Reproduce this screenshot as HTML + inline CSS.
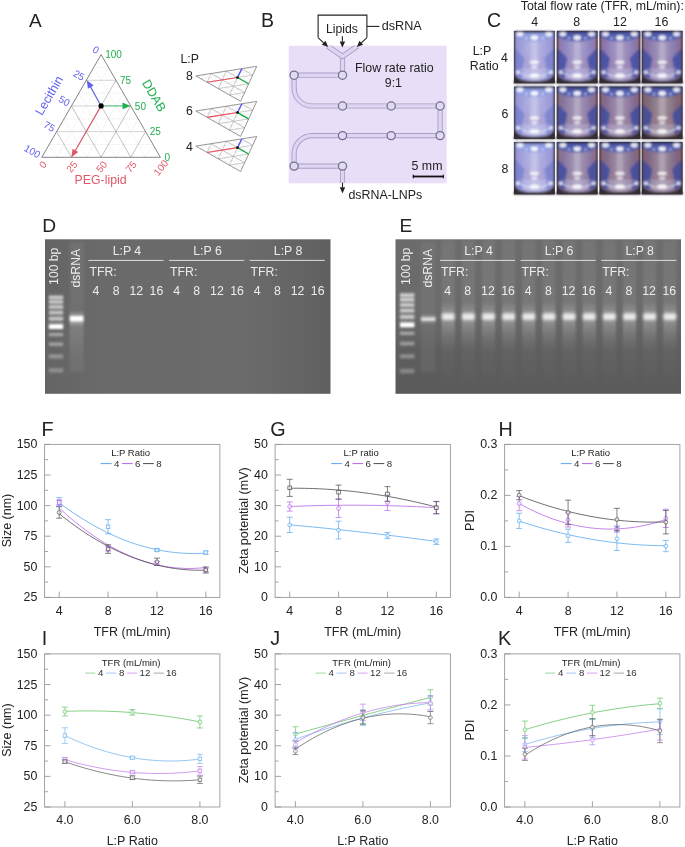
<!DOCTYPE html>
<html><head><meta charset="utf-8"><style>
html,body{margin:0;padding:0;background:#fff;}
body{width:685px;height:847px;overflow:hidden;}
svg{display:block;font-family:"Liberation Sans", sans-serif;will-change:transform;}
</style></head><body>
<svg width="685" height="847" viewBox="0 0 685 847">
<rect width="685" height="847" fill="#fff"/>
<g><line x1="49.21" y1="144.46" x2="152.99" y2="144.46" stroke="#d2d2d2" stroke-width="0.5" stroke-dasharray="1.2 1.2"/><line x1="56.62" y1="157.30" x2="108.51" y2="67.44" stroke="#d2d2d2" stroke-width="0.5" stroke-dasharray="1.2 1.2"/><line x1="56.62" y1="157.30" x2="49.21" y2="144.46" stroke="#d2d2d2" stroke-width="0.5" stroke-dasharray="1.2 1.2"/><line x1="56.62" y1="131.62" x2="145.57" y2="131.62" stroke="#c6c6c6" stroke-width="0.78"/><line x1="71.45" y1="157.30" x2="115.92" y2="80.28" stroke="#999999" stroke-width="0.6"/><line x1="71.45" y1="157.30" x2="56.62" y2="131.62" stroke="#999999" stroke-width="0.6"/><line x1="64.04" y1="118.79" x2="138.16" y2="118.79" stroke="#d2d2d2" stroke-width="0.5" stroke-dasharray="1.2 1.2"/><line x1="86.28" y1="157.30" x2="123.34" y2="93.11" stroke="#d2d2d2" stroke-width="0.5" stroke-dasharray="1.2 1.2"/><line x1="86.28" y1="157.30" x2="64.04" y2="118.79" stroke="#d2d2d2" stroke-width="0.5" stroke-dasharray="1.2 1.2"/><line x1="71.45" y1="105.95" x2="130.75" y2="105.95" stroke="#c6c6c6" stroke-width="0.78"/><line x1="101.10" y1="157.30" x2="130.75" y2="105.95" stroke="#999999" stroke-width="0.6"/><line x1="101.10" y1="157.30" x2="71.45" y2="105.95" stroke="#999999" stroke-width="0.6"/><line x1="78.86" y1="93.11" x2="123.34" y2="93.11" stroke="#d2d2d2" stroke-width="0.5" stroke-dasharray="1.2 1.2"/><line x1="115.92" y1="157.30" x2="138.16" y2="118.79" stroke="#d2d2d2" stroke-width="0.5" stroke-dasharray="1.2 1.2"/><line x1="115.92" y1="157.30" x2="78.86" y2="93.11" stroke="#d2d2d2" stroke-width="0.5" stroke-dasharray="1.2 1.2"/><line x1="86.27" y1="80.28" x2="115.92" y2="80.28" stroke="#c6c6c6" stroke-width="0.78"/><line x1="130.75" y1="157.30" x2="145.57" y2="131.62" stroke="#999999" stroke-width="0.6"/><line x1="130.75" y1="157.30" x2="86.27" y2="80.28" stroke="#999999" stroke-width="0.6"/><line x1="93.69" y1="67.44" x2="108.51" y2="67.44" stroke="#d2d2d2" stroke-width="0.5" stroke-dasharray="1.2 1.2"/><line x1="145.57" y1="157.30" x2="152.99" y2="144.46" stroke="#d2d2d2" stroke-width="0.5" stroke-dasharray="1.2 1.2"/><line x1="145.57" y1="157.30" x2="93.69" y2="67.44" stroke="#d2d2d2" stroke-width="0.5" stroke-dasharray="1.2 1.2"/><polygon points="101.1,54.6 41.8,157.3 160.4,157.3" fill="none" stroke="#666666" stroke-width="0.8"/><line x1="101.10" y1="105.90" x2="90.29" y2="86.33" stroke="#6060f0" stroke-width="1.1"/><polygon points="86.90,80.20 93.66,85.61 87.88,88.80" fill="#6060f0"/><line x1="101.10" y1="105.90" x2="123.50" y2="105.90" stroke="#60c888" stroke-width="1.1"/><polygon points="130.50,105.90 122.50,109.20 122.50,102.60" fill="#20b050"/><line x1="101.10" y1="105.90" x2="74.90" y2="151.24" stroke="#e05868" stroke-width="1.1"/><polygon points="71.40,157.30 72.55,148.72 78.26,152.02" fill="#e05868"/><circle cx="101.1" cy="105.9" r="2.6" fill="#000"/><text x="105.20" y="58.20" font-size="10" fill="#20b050" text-anchor="start" >100</text><text x="120.02" y="83.88" font-size="10" fill="#20b050" text-anchor="start" >75</text><text x="134.85" y="109.55" font-size="10" fill="#20b050" text-anchor="start" >50</text><text x="149.67" y="135.22" font-size="10" fill="#20b050" text-anchor="start" >25</text><text x="164.50" y="160.90" font-size="10" fill="#20b050" text-anchor="start" >0</text><text transform="translate(95.90,50.00) rotate(30)" font-size="10" fill="#6060f0" text-anchor="middle" y="3.4">0</text><text transform="translate(78.97,75.28) rotate(30)" font-size="10" fill="#6060f0" text-anchor="middle" y="3.4">25</text><text transform="translate(64.15,100.95) rotate(30)" font-size="10" fill="#6060f0" text-anchor="middle" y="3.4">50</text><text transform="translate(49.33,126.62) rotate(30)" font-size="10" fill="#6060f0" text-anchor="middle" y="3.4">75</text><text transform="translate(32.30,151.50) rotate(30)" font-size="10" fill="#6060f0" text-anchor="middle" y="3.4">100</text><text transform="translate(43.00,164.80) rotate(-50)" font-size="10" fill="#e05868" text-anchor="middle" y="3.4">0</text><text transform="translate(71.95,166.80) rotate(-50)" font-size="10" fill="#e05868" text-anchor="middle" y="3.4">25</text><text transform="translate(101.60,166.80) rotate(-50)" font-size="10" fill="#e05868" text-anchor="middle" y="3.4">50</text><text transform="translate(131.25,166.80) rotate(-50)" font-size="10" fill="#e05868" text-anchor="middle" y="3.4">75</text><text transform="translate(160.90,167.80) rotate(-50)" font-size="10" fill="#e05868" text-anchor="middle" y="3.4">100</text><text x="100.60" y="183.60" font-size="12.3" fill="#e05868" text-anchor="middle" >PEG-lipid</text><text transform="translate(49,95.5) rotate(-60)" font-size="12.5" fill="#6060f0" text-anchor="middle" y="4.4">Lecithin</text><text transform="translate(154.3,95.5) rotate(60)" font-size="12.5" fill="#20b050" text-anchor="middle" y="4.4">DDAB</text><text x="29.00" y="27.20" font-size="19" fill="#222" text-anchor="start" >A</text><text x="180.50" y="63.30" font-size="12.3" fill="#222" text-anchor="start" >L:P</text><text x="186.00" y="80.30" font-size="12.3" fill="#222" text-anchor="start" >8</text><g transform="matrix(0.3769,0.2142,-0.3748,0.2169,239.1,32.83)"><line x1="49.21" y1="144.46" x2="152.99" y2="144.46" stroke="#d4d4d4" stroke-width="1.0" stroke-dasharray="1.2 1.2"/><line x1="56.62" y1="157.30" x2="108.51" y2="67.44" stroke="#d4d4d4" stroke-width="1.0" stroke-dasharray="1.2 1.2"/><line x1="56.62" y1="157.30" x2="49.21" y2="144.46" stroke="#d4d4d4" stroke-width="1.0" stroke-dasharray="1.2 1.2"/><line x1="56.62" y1="131.62" x2="145.57" y2="131.62" stroke="#b0b0b0" stroke-width="1.56"/><line x1="71.45" y1="157.30" x2="115.92" y2="80.28" stroke="#a4a4a4" stroke-width="1.2"/><line x1="71.45" y1="157.30" x2="56.62" y2="131.62" stroke="#a4a4a4" stroke-width="1.2"/><line x1="64.04" y1="118.79" x2="138.16" y2="118.79" stroke="#d4d4d4" stroke-width="1.0" stroke-dasharray="1.2 1.2"/><line x1="86.28" y1="157.30" x2="123.34" y2="93.11" stroke="#d4d4d4" stroke-width="1.0" stroke-dasharray="1.2 1.2"/><line x1="86.28" y1="157.30" x2="64.04" y2="118.79" stroke="#d4d4d4" stroke-width="1.0" stroke-dasharray="1.2 1.2"/><line x1="71.45" y1="105.95" x2="130.75" y2="105.95" stroke="#b0b0b0" stroke-width="1.56"/><line x1="101.10" y1="157.30" x2="130.75" y2="105.95" stroke="#a4a4a4" stroke-width="1.2"/><line x1="101.10" y1="157.30" x2="71.45" y2="105.95" stroke="#a4a4a4" stroke-width="1.2"/><line x1="78.86" y1="93.11" x2="123.34" y2="93.11" stroke="#d4d4d4" stroke-width="1.0" stroke-dasharray="1.2 1.2"/><line x1="115.92" y1="157.30" x2="138.16" y2="118.79" stroke="#d4d4d4" stroke-width="1.0" stroke-dasharray="1.2 1.2"/><line x1="115.92" y1="157.30" x2="78.86" y2="93.11" stroke="#d4d4d4" stroke-width="1.0" stroke-dasharray="1.2 1.2"/><line x1="86.27" y1="80.28" x2="115.92" y2="80.28" stroke="#b0b0b0" stroke-width="1.56"/><line x1="130.75" y1="157.30" x2="145.57" y2="131.62" stroke="#a4a4a4" stroke-width="1.2"/><line x1="130.75" y1="157.30" x2="86.27" y2="80.28" stroke="#a4a4a4" stroke-width="1.2"/><line x1="93.69" y1="67.44" x2="108.51" y2="67.44" stroke="#d4d4d4" stroke-width="1.0" stroke-dasharray="1.2 1.2"/><line x1="145.57" y1="157.30" x2="152.99" y2="144.46" stroke="#d4d4d4" stroke-width="1.0" stroke-dasharray="1.2 1.2"/><line x1="145.57" y1="157.30" x2="93.69" y2="67.44" stroke="#d4d4d4" stroke-width="1.0" stroke-dasharray="1.2 1.2"/><polygon points="101.1,54.6 41.8,157.3 160.4,157.3" fill="none" stroke="#787878" stroke-width="1.6"/></g><line x1="237.51" y1="77.46" x2="207.05" y2="82.24" stroke="#f05060" stroke-width="1.1"/><line x1="237.51" y1="77.46" x2="241.79" y2="68.84" stroke="#5050ff" stroke-width="1.3"/><line x1="237.51" y1="77.46" x2="248.59" y2="83.75" stroke="#10b040" stroke-width="1.3"/><circle cx="237.51" cy="77.46" r="1.3" fill="#000"/><text x="186.00" y="115.40" font-size="12.3" fill="#222" text-anchor="start" >6</text><g transform="matrix(0.3769,0.2142,-0.3748,0.2169,239.1,67.93)"><line x1="49.21" y1="144.46" x2="152.99" y2="144.46" stroke="#d4d4d4" stroke-width="1.0" stroke-dasharray="1.2 1.2"/><line x1="56.62" y1="157.30" x2="108.51" y2="67.44" stroke="#d4d4d4" stroke-width="1.0" stroke-dasharray="1.2 1.2"/><line x1="56.62" y1="157.30" x2="49.21" y2="144.46" stroke="#d4d4d4" stroke-width="1.0" stroke-dasharray="1.2 1.2"/><line x1="56.62" y1="131.62" x2="145.57" y2="131.62" stroke="#b0b0b0" stroke-width="1.56"/><line x1="71.45" y1="157.30" x2="115.92" y2="80.28" stroke="#a4a4a4" stroke-width="1.2"/><line x1="71.45" y1="157.30" x2="56.62" y2="131.62" stroke="#a4a4a4" stroke-width="1.2"/><line x1="64.04" y1="118.79" x2="138.16" y2="118.79" stroke="#d4d4d4" stroke-width="1.0" stroke-dasharray="1.2 1.2"/><line x1="86.28" y1="157.30" x2="123.34" y2="93.11" stroke="#d4d4d4" stroke-width="1.0" stroke-dasharray="1.2 1.2"/><line x1="86.28" y1="157.30" x2="64.04" y2="118.79" stroke="#d4d4d4" stroke-width="1.0" stroke-dasharray="1.2 1.2"/><line x1="71.45" y1="105.95" x2="130.75" y2="105.95" stroke="#b0b0b0" stroke-width="1.56"/><line x1="101.10" y1="157.30" x2="130.75" y2="105.95" stroke="#a4a4a4" stroke-width="1.2"/><line x1="101.10" y1="157.30" x2="71.45" y2="105.95" stroke="#a4a4a4" stroke-width="1.2"/><line x1="78.86" y1="93.11" x2="123.34" y2="93.11" stroke="#d4d4d4" stroke-width="1.0" stroke-dasharray="1.2 1.2"/><line x1="115.92" y1="157.30" x2="138.16" y2="118.79" stroke="#d4d4d4" stroke-width="1.0" stroke-dasharray="1.2 1.2"/><line x1="115.92" y1="157.30" x2="78.86" y2="93.11" stroke="#d4d4d4" stroke-width="1.0" stroke-dasharray="1.2 1.2"/><line x1="86.27" y1="80.28" x2="115.92" y2="80.28" stroke="#b0b0b0" stroke-width="1.56"/><line x1="130.75" y1="157.30" x2="145.57" y2="131.62" stroke="#a4a4a4" stroke-width="1.2"/><line x1="130.75" y1="157.30" x2="86.27" y2="80.28" stroke="#a4a4a4" stroke-width="1.2"/><line x1="93.69" y1="67.44" x2="108.51" y2="67.44" stroke="#d4d4d4" stroke-width="1.0" stroke-dasharray="1.2 1.2"/><line x1="145.57" y1="157.30" x2="152.99" y2="144.46" stroke="#d4d4d4" stroke-width="1.0" stroke-dasharray="1.2 1.2"/><line x1="145.57" y1="157.30" x2="93.69" y2="67.44" stroke="#d4d4d4" stroke-width="1.0" stroke-dasharray="1.2 1.2"/><polygon points="101.1,54.6 41.8,157.3 160.4,157.3" fill="none" stroke="#787878" stroke-width="1.6"/></g><line x1="237.51" y1="112.56" x2="207.05" y2="117.34" stroke="#f05060" stroke-width="1.1"/><line x1="237.51" y1="112.56" x2="241.79" y2="103.94" stroke="#5050ff" stroke-width="1.3"/><line x1="237.51" y1="112.56" x2="248.59" y2="118.85" stroke="#10b040" stroke-width="1.3"/><circle cx="237.51" cy="112.56" r="1.3" fill="#000"/><text x="186.00" y="150.50" font-size="12.3" fill="#222" text-anchor="start" >4</text><g transform="matrix(0.3769,0.2142,-0.3748,0.2169,239.1,103.03)"><line x1="49.21" y1="144.46" x2="152.99" y2="144.46" stroke="#d4d4d4" stroke-width="1.0" stroke-dasharray="1.2 1.2"/><line x1="56.62" y1="157.30" x2="108.51" y2="67.44" stroke="#d4d4d4" stroke-width="1.0" stroke-dasharray="1.2 1.2"/><line x1="56.62" y1="157.30" x2="49.21" y2="144.46" stroke="#d4d4d4" stroke-width="1.0" stroke-dasharray="1.2 1.2"/><line x1="56.62" y1="131.62" x2="145.57" y2="131.62" stroke="#b0b0b0" stroke-width="1.56"/><line x1="71.45" y1="157.30" x2="115.92" y2="80.28" stroke="#a4a4a4" stroke-width="1.2"/><line x1="71.45" y1="157.30" x2="56.62" y2="131.62" stroke="#a4a4a4" stroke-width="1.2"/><line x1="64.04" y1="118.79" x2="138.16" y2="118.79" stroke="#d4d4d4" stroke-width="1.0" stroke-dasharray="1.2 1.2"/><line x1="86.28" y1="157.30" x2="123.34" y2="93.11" stroke="#d4d4d4" stroke-width="1.0" stroke-dasharray="1.2 1.2"/><line x1="86.28" y1="157.30" x2="64.04" y2="118.79" stroke="#d4d4d4" stroke-width="1.0" stroke-dasharray="1.2 1.2"/><line x1="71.45" y1="105.95" x2="130.75" y2="105.95" stroke="#b0b0b0" stroke-width="1.56"/><line x1="101.10" y1="157.30" x2="130.75" y2="105.95" stroke="#a4a4a4" stroke-width="1.2"/><line x1="101.10" y1="157.30" x2="71.45" y2="105.95" stroke="#a4a4a4" stroke-width="1.2"/><line x1="78.86" y1="93.11" x2="123.34" y2="93.11" stroke="#d4d4d4" stroke-width="1.0" stroke-dasharray="1.2 1.2"/><line x1="115.92" y1="157.30" x2="138.16" y2="118.79" stroke="#d4d4d4" stroke-width="1.0" stroke-dasharray="1.2 1.2"/><line x1="115.92" y1="157.30" x2="78.86" y2="93.11" stroke="#d4d4d4" stroke-width="1.0" stroke-dasharray="1.2 1.2"/><line x1="86.27" y1="80.28" x2="115.92" y2="80.28" stroke="#b0b0b0" stroke-width="1.56"/><line x1="130.75" y1="157.30" x2="145.57" y2="131.62" stroke="#a4a4a4" stroke-width="1.2"/><line x1="130.75" y1="157.30" x2="86.27" y2="80.28" stroke="#a4a4a4" stroke-width="1.2"/><line x1="93.69" y1="67.44" x2="108.51" y2="67.44" stroke="#d4d4d4" stroke-width="1.0" stroke-dasharray="1.2 1.2"/><line x1="145.57" y1="157.30" x2="152.99" y2="144.46" stroke="#d4d4d4" stroke-width="1.0" stroke-dasharray="1.2 1.2"/><line x1="145.57" y1="157.30" x2="93.69" y2="67.44" stroke="#d4d4d4" stroke-width="1.0" stroke-dasharray="1.2 1.2"/><polygon points="101.1,54.6 41.8,157.3 160.4,157.3" fill="none" stroke="#787878" stroke-width="1.6"/></g><line x1="237.51" y1="147.66" x2="207.05" y2="152.44" stroke="#f05060" stroke-width="1.1"/><line x1="237.51" y1="147.66" x2="241.79" y2="139.04" stroke="#5050ff" stroke-width="1.3"/><line x1="237.51" y1="147.66" x2="248.59" y2="153.95" stroke="#10b040" stroke-width="1.3"/><circle cx="237.51" cy="147.66" r="1.3" fill="#000"/></g><text x="261.00" y="26.80" font-size="19.5" fill="#222" text-anchor="start" >B</text><defs><filter id="chblur" x="-5%" y="-5%" width="110%" height="110%"><feGaussianBlur stdDeviation="0.45"/></filter></defs><rect x="288.7" y="45.5" width="158" height="137.8" fill="#e9def8"/><g filter="url(#chblur)"><path d="M294.1,75.2 L342.5,75.2 M294.1,75.2 L294.1,88 A18,18 0 0 0 312.1,106 L440.1,106 L440.1,135.6 L312.1,135.6 A18,18 0 0 0 294.1,153.6 L294.1,166.1 L342.5,166.1 M342.5,56.5 L342.5,75.2 M342.5,166.1 L342.5,182.8" fill="none" stroke="#a8a0c6" stroke-width="5.2"/><path d="M294.1,75.2 L342.5,75.2 M294.1,75.2 L294.1,88 A18,18 0 0 0 312.1,106 L440.1,106 L440.1,135.6 L312.1,135.6 A18,18 0 0 0 294.1,153.6 L294.1,166.1 L342.5,166.1 M342.5,56.5 L342.5,75.2 M342.5,166.1 L342.5,182.8" fill="none" stroke="#ddd5f2" stroke-width="3.4"/><path d="M327.5,46 L342.5,56.5 L357.5,46" fill="none" stroke="#a8a0c6" stroke-width="5.2" stroke-linejoin="round"/><path d="M327.5,46 L342.5,56.5 L357.5,46" fill="none" stroke="#ddd5f2" stroke-width="3.4" stroke-linejoin="round"/></g><rect x="288.7" y="44" width="158" height="1.5" fill="#fff"/><circle cx="294.1" cy="75.2" r="4.1" fill="#e2daf4" stroke="#727088" stroke-width="1.25"/><circle cx="342.5" cy="75.2" r="4.1" fill="#e2daf4" stroke="#727088" stroke-width="1.25"/><circle cx="342.5" cy="106" r="4.1" fill="#e2daf4" stroke="#727088" stroke-width="1.25"/><circle cx="391.2" cy="106" r="4.1" fill="#e2daf4" stroke="#727088" stroke-width="1.25"/><circle cx="440.1" cy="106" r="4.1" fill="#e2daf4" stroke="#727088" stroke-width="1.25"/><circle cx="342.5" cy="135.6" r="4.1" fill="#e2daf4" stroke="#727088" stroke-width="1.25"/><circle cx="391.2" cy="135.6" r="4.1" fill="#e2daf4" stroke="#727088" stroke-width="1.25"/><circle cx="440.1" cy="135.6" r="4.1" fill="#e2daf4" stroke="#727088" stroke-width="1.25"/><circle cx="294.1" cy="166.1" r="4.1" fill="#e2daf4" stroke="#727088" stroke-width="1.25"/><circle cx="342.5" cy="166.1" r="4.1" fill="#e2daf4" stroke="#727088" stroke-width="1.25"/><path d="M318.1,37.6 L318.1,15.1 L366.9,15.1 L366.9,37.6" fill="none" stroke="#222" stroke-width="1.1"/><line x1="318.1" y1="37.6" x2="323.66" y2="42.78" stroke="#222" stroke-width="1.1"/><polygon points="328.2,47.0 321.82,44.75 325.50,40.80" fill="#222"/><line x1="366.9" y1="37.6" x2="361.34" y2="42.78" stroke="#222" stroke-width="1.1"/><polygon points="356.8,47.0 359.50,40.80 363.18,44.75" fill="#222"/><line x1="342.4" y1="36.2" x2="342.40" y2="41.40" stroke="#222" stroke-width="1.1"/><polygon points="342.4,47.6 339.70,41.40 345.10,41.40" fill="#222"/><line x1="342.5" y1="182.8" x2="342.50" y2="187.30" stroke="#222" stroke-width="1.1"/><polygon points="342.5,193.5 339.80,187.30 345.20,187.30" fill="#222"/><line x1="366.9" y1="26.4" x2="379.5" y2="26.4" stroke="#222" stroke-width="1.1"/><text x="342.00" y="33.00" font-size="12.2" fill="#222" text-anchor="middle" >Lipids</text><text x="381.80" y="30.40" font-size="12.6" fill="#222" text-anchor="start" >dsRNA</text><text x="394.30" y="71.90" font-size="12.4" fill="#222" text-anchor="middle" >Flow rate ratio</text><text x="393.40" y="87.00" font-size="12.4" fill="#222" text-anchor="middle" >9:1</text><text x="427.00" y="169.80" font-size="12.4" fill="#222" text-anchor="middle" >5 mm</text><rect x="412.8" y="175.6" width="31" height="1.8" fill="#111"/><rect x="412.8" y="174.6" width="1.0" height="3.8" fill="#111"/><rect x="442.8" y="174.6" width="1.0" height="3.8" fill="#111"/><text x="385.30" y="199.00" font-size="12.4" fill="#222" text-anchor="middle" >dsRNA-LNPs</text><text x="487.00" y="27.00" font-size="19.5" fill="#222" text-anchor="start" >C</text><text x="602.30" y="10.00" font-size="12.4" fill="#222" text-anchor="middle" >Total flow rate (TFR, mL/min):</text><text x="534.60" y="25.60" font-size="12.4" fill="#222" text-anchor="middle" >4</text><text x="576.60" y="25.60" font-size="12.4" fill="#222" text-anchor="middle" >8</text><text x="620.00" y="25.60" font-size="12.4" fill="#222" text-anchor="middle" >12</text><text x="661.50" y="25.60" font-size="12.4" fill="#222" text-anchor="middle" >16</text><text x="482.00" y="55.30" font-size="12.4" fill="#222" text-anchor="middle" >L:P</text><text x="484.30" y="69.80" font-size="12.4" fill="#222" text-anchor="middle" >Ratio</text><text x="504.50" y="62.20" font-size="12.4" fill="#222" text-anchor="middle" >4</text><text x="505.00" y="117.50" font-size="12.4" fill="#222" text-anchor="middle" >6</text><text x="505.00" y="173.00" font-size="12.4" fill="#222" text-anchor="middle" >8</text><defs><filter id="vblur" x="-5%" y="-5%" width="110%" height="110%"><feGaussianBlur stdDeviation="0.85"/></filter></defs><defs><linearGradient id="v00h" x1="0" x2="1" y1="0" y2="0"><stop offset="0" stop-color="#9594d0"/><stop offset="0.12" stop-color="#9e9cda"/><stop offset="0.5" stop-color="#bbbae5"/><stop offset="0.88" stop-color="#9e9cda"/><stop offset="1" stop-color="#9594d0"/></linearGradient></defs><rect x="513.9" y="30.9" width="41.0" height="52.4" fill="#2c2830"/><g filter="url(#vblur)"><path d="M514.92,30.90 L553.88,30.90 L553.88,73.87 Q553.88,81.20 534.40,81.20 Q514.92,81.20 514.92,73.87 Z" fill="url(#v00h)"/><path d="M522.10,69.68 L527.43,51.86 L531.94,69.68 Z" fill="#ad9dcb" opacity="0.45"/><path d="M546.70,69.68 L541.37,51.86 L536.86,69.68 Z" fill="#ad9dcb" opacity="0.45"/><path d="M514.92,48.19 L524.56,58.15 L522.10,69.68 L522.92,78.06 Q515.54,78.06 514.92,72.82 Z" fill="#6a78c8" opacity="0.6"/><path d="M553.88,48.19 L544.24,58.15 L546.70,69.68 L545.88,78.06 Q553.26,78.06 553.88,72.82 Z" fill="#6a78c8" opacity="0.6"/><path d="M514.92,30.90 L553.88,30.90 L553.88,37.19 Q534.40,45.57 514.92,37.19 Z" fill="#8e9ce2" opacity="0.9"/><path d="M514.92,30.90 L553.88,30.90 L553.88,31.95 Q534.40,34.04 514.92,31.95 Z" fill="#2a2634" opacity="0.7"/><rect x="531.12" y="41.38" width="6.56" height="22.01" fill="#fff" opacity="0.15"/><path d="M522.10,70.72 L546.70,70.72 L546.70,78.06 Q534.40,81.73 522.10,78.06 Z" fill="#d8d8f4" opacity="0.28"/><path d="M518.00,69.68 L550.80,69.68" stroke="#e4e4fa" stroke-width="0.9" opacity="0.5"/><path d="M516.36,70.72 Q534.40,83.30 552.44,70.72" fill="none" stroke="#eeeeff" stroke-width="1.4" opacity="0.6"/><ellipse cx="520.05" cy="34.04" rx="3.40" ry="2.40" fill="#fff" opacity="0.85"/><ellipse cx="534.40" cy="37.71" rx="3.80" ry="2.40" fill="#fff" opacity="0.9"/><ellipse cx="548.75" cy="34.04" rx="3.40" ry="2.40" fill="#fff" opacity="0.85"/><ellipse cx="526.20" cy="38.24" rx="1.60" ry="1.20" fill="#fff" opacity="0.5"/><ellipse cx="542.60" cy="38.24" rx="1.60" ry="1.20" fill="#fff" opacity="0.5"/><ellipse cx="534.40" cy="62.34" rx="4.80" ry="1.80" fill="#fff" opacity="0.8"/><ellipse cx="534.40" cy="67.06" rx="3.20" ry="1.40" fill="#fff" opacity="0.65"/><ellipse cx="534.40" cy="75.44" rx="4.80" ry="2.00" fill="#fff" opacity="0.9"/><ellipse cx="518.00" cy="72.30" rx="2.40" ry="1.60" fill="#fff" opacity="0.75"/><ellipse cx="550.80" cy="72.30" rx="2.40" ry="1.60" fill="#fff" opacity="0.75"/><rect x="513.9" y="80.94" width="41.0" height="2.36" fill="#3a3036"/></g><defs><linearGradient id="v01h" x1="0" x2="1" y1="0" y2="0"><stop offset="0" stop-color="#9a738e"/><stop offset="0.12" stop-color="#8c80bc"/><stop offset="0.5" stop-color="#aea6d0"/><stop offset="0.88" stop-color="#8c80bc"/><stop offset="1" stop-color="#9a738e"/></linearGradient></defs><rect x="556.7" y="30.9" width="41.0" height="52.4" fill="#2c2830"/><g filter="url(#vblur)"><path d="M557.73,30.90 L596.68,30.90 L596.68,73.87 Q596.68,81.20 577.20,81.20 Q557.73,81.20 557.73,73.87 Z" fill="url(#v01h)"/><path d="M564.90,69.68 L570.23,51.86 L574.74,69.68 Z" fill="#a18bb8" opacity="0.45"/><path d="M589.50,69.68 L584.17,51.86 L579.66,69.68 Z" fill="#a18bb8" opacity="0.45"/><path d="M557.73,48.19 L567.36,58.15 L564.90,69.68 L565.72,78.06 Q558.34,78.06 557.73,72.82 Z" fill="#3646a2" opacity="0.72"/><path d="M596.68,48.19 L587.04,58.15 L589.50,69.68 L588.68,78.06 Q596.06,78.06 596.68,72.82 Z" fill="#3646a2" opacity="0.72"/><path d="M557.73,30.90 L596.68,30.90 L596.68,37.19 Q577.20,45.57 557.73,37.19 Z" fill="#4858ae" opacity="0.9"/><path d="M557.73,30.90 L596.68,30.90 L596.68,31.95 Q577.20,34.04 557.73,31.95 Z" fill="#2a2634" opacity="0.7"/><rect x="573.92" y="41.38" width="6.56" height="22.01" fill="#fff" opacity="0.15"/><path d="M564.90,70.72 L589.50,70.72 L589.50,78.06 Q577.20,81.73 564.90,78.06 Z" fill="#d8d8f4" opacity="0.28"/><path d="M560.80,69.68 L593.60,69.68" stroke="#e4e4fa" stroke-width="0.9" opacity="0.5"/><path d="M559.16,70.72 Q577.20,83.30 595.24,70.72" fill="none" stroke="#eeeeff" stroke-width="1.4" opacity="0.6"/><ellipse cx="562.85" cy="34.04" rx="3.40" ry="2.40" fill="#fff" opacity="0.85"/><ellipse cx="577.20" cy="37.71" rx="3.80" ry="2.40" fill="#fff" opacity="0.9"/><ellipse cx="591.55" cy="34.04" rx="3.40" ry="2.40" fill="#fff" opacity="0.85"/><ellipse cx="569.00" cy="38.24" rx="1.60" ry="1.20" fill="#fff" opacity="0.5"/><ellipse cx="585.40" cy="38.24" rx="1.60" ry="1.20" fill="#fff" opacity="0.5"/><ellipse cx="577.20" cy="62.34" rx="4.80" ry="1.80" fill="#fff" opacity="0.8"/><ellipse cx="577.20" cy="67.06" rx="3.20" ry="1.40" fill="#fff" opacity="0.65"/><ellipse cx="577.20" cy="75.44" rx="4.80" ry="2.00" fill="#fff" opacity="0.9"/><ellipse cx="560.80" cy="72.30" rx="2.40" ry="1.60" fill="#fff" opacity="0.75"/><ellipse cx="593.60" cy="72.30" rx="2.40" ry="1.60" fill="#fff" opacity="0.75"/><rect x="556.7" y="80.94" width="41.0" height="2.36" fill="#3a3036"/></g><defs><linearGradient id="v02h" x1="0" x2="1" y1="0" y2="0"><stop offset="0" stop-color="#986e86"/><stop offset="0.12" stop-color="#8878b0"/><stop offset="0.5" stop-color="#aca0c8"/><stop offset="0.88" stop-color="#8878b0"/><stop offset="1" stop-color="#986e86"/></linearGradient></defs><rect x="599.4" y="30.9" width="41.0" height="52.4" fill="#2c2830"/><g filter="url(#vblur)"><path d="M600.42,30.90 L639.38,30.90 L639.38,73.87 Q639.38,81.20 619.90,81.20 Q600.42,81.20 600.42,73.87 Z" fill="url(#v02h)"/><path d="M607.60,69.68 L612.93,51.86 L617.44,69.68 Z" fill="#9e86b0" opacity="0.45"/><path d="M632.20,69.68 L626.87,51.86 L622.36,69.68 Z" fill="#9e86b0" opacity="0.45"/><path d="M600.42,48.19 L610.06,58.15 L607.60,69.68 L608.42,78.06 Q601.04,78.06 600.42,72.82 Z" fill="#3646a2" opacity="0.72"/><path d="M639.38,48.19 L629.74,58.15 L632.20,69.68 L631.38,78.06 Q638.76,78.06 639.38,72.82 Z" fill="#3646a2" opacity="0.72"/><path d="M600.42,30.90 L639.38,30.90 L639.38,37.19 Q619.90,45.57 600.42,37.19 Z" fill="#4858ae" opacity="0.9"/><path d="M600.42,30.90 L639.38,30.90 L639.38,31.95 Q619.90,34.04 600.42,31.95 Z" fill="#2a2634" opacity="0.7"/><rect x="616.62" y="41.38" width="6.56" height="22.01" fill="#fff" opacity="0.15"/><path d="M607.60,70.72 L632.20,70.72 L632.20,78.06 Q619.90,81.73 607.60,78.06 Z" fill="#d8d8f4" opacity="0.28"/><path d="M603.50,69.68 L636.30,69.68" stroke="#e4e4fa" stroke-width="0.9" opacity="0.5"/><path d="M601.86,70.72 Q619.90,83.30 637.94,70.72" fill="none" stroke="#eeeeff" stroke-width="1.4" opacity="0.6"/><ellipse cx="605.55" cy="34.04" rx="3.40" ry="2.40" fill="#fff" opacity="0.85"/><ellipse cx="619.90" cy="37.71" rx="3.80" ry="2.40" fill="#fff" opacity="0.9"/><ellipse cx="634.25" cy="34.04" rx="3.40" ry="2.40" fill="#fff" opacity="0.85"/><ellipse cx="611.70" cy="38.24" rx="1.60" ry="1.20" fill="#fff" opacity="0.5"/><ellipse cx="628.10" cy="38.24" rx="1.60" ry="1.20" fill="#fff" opacity="0.5"/><ellipse cx="619.90" cy="62.34" rx="4.80" ry="1.80" fill="#fff" opacity="0.8"/><ellipse cx="619.90" cy="67.06" rx="3.20" ry="1.40" fill="#fff" opacity="0.65"/><ellipse cx="619.90" cy="75.44" rx="4.80" ry="2.00" fill="#fff" opacity="0.9"/><ellipse cx="603.50" cy="72.30" rx="2.40" ry="1.60" fill="#fff" opacity="0.75"/><ellipse cx="636.30" cy="72.30" rx="2.40" ry="1.60" fill="#fff" opacity="0.75"/><rect x="599.4" y="80.94" width="41.0" height="2.36" fill="#3a3036"/></g><defs><linearGradient id="v03h" x1="0" x2="1" y1="0" y2="0"><stop offset="0" stop-color="#966c82"/><stop offset="0.12" stop-color="#8474a8"/><stop offset="0.5" stop-color="#a99ec2"/><stop offset="0.88" stop-color="#8474a8"/><stop offset="1" stop-color="#966c82"/></linearGradient></defs><rect x="641.7" y="30.9" width="41.0" height="52.4" fill="#2c2830"/><g filter="url(#vblur)"><path d="M642.73,30.90 L681.68,30.90 L681.68,73.87 Q681.68,81.20 662.20,81.20 Q642.73,81.20 642.73,73.87 Z" fill="url(#v03h)"/><path d="M649.90,69.68 L655.23,51.86 L659.74,69.68 Z" fill="#9c83ab" opacity="0.45"/><path d="M674.50,69.68 L669.17,51.86 L664.66,69.68 Z" fill="#9c83ab" opacity="0.45"/><path d="M642.73,48.19 L652.36,58.15 L649.90,69.68 L650.72,78.06 Q643.34,78.06 642.73,72.82 Z" fill="#3646a2" opacity="0.72"/><path d="M681.68,48.19 L672.04,58.15 L674.50,69.68 L673.68,78.06 Q681.06,78.06 681.68,72.82 Z" fill="#3646a2" opacity="0.72"/><path d="M642.73,30.90 L681.68,30.90 L681.68,37.19 Q662.20,45.57 642.73,37.19 Z" fill="#4858ae" opacity="0.9"/><path d="M642.73,30.90 L681.68,30.90 L681.68,31.95 Q662.20,34.04 642.73,31.95 Z" fill="#2a2634" opacity="0.7"/><rect x="658.92" y="41.38" width="6.56" height="22.01" fill="#fff" opacity="0.15"/><path d="M649.90,70.72 L674.50,70.72 L674.50,78.06 Q662.20,81.73 649.90,78.06 Z" fill="#d8d8f4" opacity="0.28"/><path d="M645.80,69.68 L678.60,69.68" stroke="#e4e4fa" stroke-width="0.9" opacity="0.5"/><path d="M644.16,70.72 Q662.20,83.30 680.24,70.72" fill="none" stroke="#eeeeff" stroke-width="1.4" opacity="0.6"/><ellipse cx="647.85" cy="34.04" rx="3.40" ry="2.40" fill="#fff" opacity="0.85"/><ellipse cx="662.20" cy="37.71" rx="3.80" ry="2.40" fill="#fff" opacity="0.9"/><ellipse cx="676.55" cy="34.04" rx="3.40" ry="2.40" fill="#fff" opacity="0.85"/><ellipse cx="654.00" cy="38.24" rx="1.60" ry="1.20" fill="#fff" opacity="0.5"/><ellipse cx="670.40" cy="38.24" rx="1.60" ry="1.20" fill="#fff" opacity="0.5"/><ellipse cx="662.20" cy="62.34" rx="4.80" ry="1.80" fill="#fff" opacity="0.8"/><ellipse cx="662.20" cy="67.06" rx="3.20" ry="1.40" fill="#fff" opacity="0.65"/><ellipse cx="662.20" cy="75.44" rx="4.80" ry="2.00" fill="#fff" opacity="0.9"/><ellipse cx="645.80" cy="72.30" rx="2.40" ry="1.60" fill="#fff" opacity="0.75"/><ellipse cx="678.60" cy="72.30" rx="2.40" ry="1.60" fill="#fff" opacity="0.75"/><rect x="641.7" y="80.94" width="41.0" height="2.36" fill="#3a3036"/></g><defs><linearGradient id="v10h" x1="0" x2="1" y1="0" y2="0"><stop offset="0" stop-color="#9594d0"/><stop offset="0.12" stop-color="#9e9cda"/><stop offset="0.5" stop-color="#bbbae5"/><stop offset="0.88" stop-color="#9e9cda"/><stop offset="1" stop-color="#9594d0"/></linearGradient></defs><rect x="513.9" y="86.6" width="41.0" height="52.4" fill="#2c2830"/><g filter="url(#vblur)"><path d="M514.92,86.60 L553.88,86.60 L553.88,129.57 Q553.88,136.90 534.40,136.90 Q514.92,136.90 514.92,129.57 Z" fill="url(#v10h)"/><path d="M522.10,125.38 L527.43,107.56 L531.94,125.38 Z" fill="#ad9dcb" opacity="0.45"/><path d="M546.70,125.38 L541.37,107.56 L536.86,125.38 Z" fill="#ad9dcb" opacity="0.45"/><path d="M514.92,103.89 L524.56,113.85 L522.10,125.38 L522.92,133.76 Q515.54,133.76 514.92,128.52 Z" fill="#6a78c8" opacity="0.6"/><path d="M553.88,103.89 L544.24,113.85 L546.70,125.38 L545.88,133.76 Q553.26,133.76 553.88,128.52 Z" fill="#6a78c8" opacity="0.6"/><path d="M514.92,86.60 L553.88,86.60 L553.88,92.89 Q534.40,101.27 514.92,92.89 Z" fill="#8e9ce2" opacity="0.9"/><path d="M514.92,86.60 L553.88,86.60 L553.88,87.65 Q534.40,89.74 514.92,87.65 Z" fill="#2a2634" opacity="0.7"/><rect x="531.12" y="97.08" width="6.56" height="22.01" fill="#fff" opacity="0.15"/><path d="M522.10,126.42 L546.70,126.42 L546.70,133.76 Q534.40,137.43 522.10,133.76 Z" fill="#d8d8f4" opacity="0.28"/><path d="M518.00,125.38 L550.80,125.38" stroke="#e4e4fa" stroke-width="0.9" opacity="0.5"/><path d="M516.36,126.42 Q534.40,139.00 552.44,126.42" fill="none" stroke="#eeeeff" stroke-width="1.4" opacity="0.6"/><ellipse cx="520.05" cy="89.74" rx="3.40" ry="2.40" fill="#fff" opacity="0.85"/><ellipse cx="534.40" cy="93.41" rx="3.80" ry="2.40" fill="#fff" opacity="0.9"/><ellipse cx="548.75" cy="89.74" rx="3.40" ry="2.40" fill="#fff" opacity="0.85"/><ellipse cx="526.20" cy="93.94" rx="1.60" ry="1.20" fill="#fff" opacity="0.5"/><ellipse cx="542.60" cy="93.94" rx="1.60" ry="1.20" fill="#fff" opacity="0.5"/><ellipse cx="534.40" cy="118.04" rx="4.80" ry="1.80" fill="#fff" opacity="0.8"/><ellipse cx="534.40" cy="122.76" rx="3.20" ry="1.40" fill="#fff" opacity="0.65"/><ellipse cx="534.40" cy="131.14" rx="4.80" ry="2.00" fill="#fff" opacity="0.9"/><ellipse cx="518.00" cy="128.00" rx="2.40" ry="1.60" fill="#fff" opacity="0.75"/><ellipse cx="550.80" cy="128.00" rx="2.40" ry="1.60" fill="#fff" opacity="0.75"/><rect x="513.9" y="136.64" width="41.0" height="2.36" fill="#3a3036"/></g><defs><linearGradient id="v11h" x1="0" x2="1" y1="0" y2="0"><stop offset="0" stop-color="#966b7c"/><stop offset="0.12" stop-color="#84729e"/><stop offset="0.5" stop-color="#a99cbb"/><stop offset="0.88" stop-color="#84729e"/><stop offset="1" stop-color="#966b7c"/></linearGradient></defs><rect x="556.7" y="86.6" width="41.0" height="52.4" fill="#2c2830"/><g filter="url(#vblur)"><path d="M557.73,86.60 L596.68,86.60 L596.68,129.57 Q596.68,136.90 577.20,136.90 Q557.73,136.90 557.73,129.57 Z" fill="url(#v11h)"/><path d="M564.90,125.38 L570.23,107.56 L574.74,125.38 Z" fill="#9c82a4" opacity="0.45"/><path d="M589.50,125.38 L584.17,107.56 L579.66,125.38 Z" fill="#9c82a4" opacity="0.45"/><path d="M557.73,103.89 L567.36,113.85 L564.90,125.38 L565.72,133.76 Q558.34,133.76 557.73,128.52 Z" fill="#3646a2" opacity="0.72"/><path d="M596.68,103.89 L587.04,113.85 L589.50,125.38 L588.68,133.76 Q596.06,133.76 596.68,128.52 Z" fill="#3646a2" opacity="0.72"/><path d="M557.73,86.60 L596.68,86.60 L596.68,92.89 Q577.20,101.27 557.73,92.89 Z" fill="#4858ae" opacity="0.9"/><path d="M557.73,86.60 L596.68,86.60 L596.68,87.65 Q577.20,89.74 557.73,87.65 Z" fill="#2a2634" opacity="0.7"/><rect x="573.92" y="97.08" width="6.56" height="22.01" fill="#fff" opacity="0.15"/><path d="M564.90,126.42 L589.50,126.42 L589.50,133.76 Q577.20,137.43 564.90,133.76 Z" fill="#d8d8f4" opacity="0.28"/><path d="M560.80,125.38 L593.60,125.38" stroke="#e4e4fa" stroke-width="0.9" opacity="0.5"/><path d="M559.16,126.42 Q577.20,139.00 595.24,126.42" fill="none" stroke="#eeeeff" stroke-width="1.4" opacity="0.6"/><ellipse cx="562.85" cy="89.74" rx="3.40" ry="2.40" fill="#fff" opacity="0.85"/><ellipse cx="577.20" cy="93.41" rx="3.80" ry="2.40" fill="#fff" opacity="0.9"/><ellipse cx="591.55" cy="89.74" rx="3.40" ry="2.40" fill="#fff" opacity="0.85"/><ellipse cx="569.00" cy="93.94" rx="1.60" ry="1.20" fill="#fff" opacity="0.5"/><ellipse cx="585.40" cy="93.94" rx="1.60" ry="1.20" fill="#fff" opacity="0.5"/><ellipse cx="577.20" cy="118.04" rx="4.80" ry="1.80" fill="#fff" opacity="0.8"/><ellipse cx="577.20" cy="122.76" rx="3.20" ry="1.40" fill="#fff" opacity="0.65"/><ellipse cx="577.20" cy="131.14" rx="4.80" ry="2.00" fill="#fff" opacity="0.9"/><ellipse cx="560.80" cy="128.00" rx="2.40" ry="1.60" fill="#fff" opacity="0.75"/><ellipse cx="593.60" cy="128.00" rx="2.40" ry="1.60" fill="#fff" opacity="0.75"/><rect x="556.7" y="136.64" width="41.0" height="2.36" fill="#3a3036"/></g><defs><linearGradient id="v12h" x1="0" x2="1" y1="0" y2="0"><stop offset="0" stop-color="#936674"/><stop offset="0.12" stop-color="#806a92"/><stop offset="0.5" stop-color="#a697b3"/><stop offset="0.88" stop-color="#806a92"/><stop offset="1" stop-color="#936674"/></linearGradient></defs><rect x="599.4" y="86.6" width="41.0" height="52.4" fill="#2c2830"/><g filter="url(#vblur)"><path d="M600.42,86.60 L639.38,86.60 L639.38,129.57 Q639.38,136.90 619.90,136.90 Q600.42,136.90 600.42,129.57 Z" fill="url(#v12h)"/><path d="M607.60,125.38 L612.93,107.56 L617.44,125.38 Z" fill="#997d9c" opacity="0.45"/><path d="M632.20,125.38 L626.87,107.56 L622.36,125.38 Z" fill="#997d9c" opacity="0.45"/><path d="M600.42,103.89 L610.06,113.85 L607.60,125.38 L608.42,133.76 Q601.04,133.76 600.42,128.52 Z" fill="#3646a2" opacity="0.72"/><path d="M639.38,103.89 L629.74,113.85 L632.20,125.38 L631.38,133.76 Q638.76,133.76 639.38,128.52 Z" fill="#3646a2" opacity="0.72"/><path d="M600.42,86.60 L639.38,86.60 L639.38,92.89 Q619.90,101.27 600.42,92.89 Z" fill="#4858ae" opacity="0.9"/><path d="M600.42,86.60 L639.38,86.60 L639.38,87.65 Q619.90,89.74 600.42,87.65 Z" fill="#2a2634" opacity="0.7"/><rect x="616.62" y="97.08" width="6.56" height="22.01" fill="#fff" opacity="0.15"/><path d="M607.60,126.42 L632.20,126.42 L632.20,133.76 Q619.90,137.43 607.60,133.76 Z" fill="#d8d8f4" opacity="0.28"/><path d="M603.50,125.38 L636.30,125.38" stroke="#e4e4fa" stroke-width="0.9" opacity="0.5"/><path d="M601.86,126.42 Q619.90,139.00 637.94,126.42" fill="none" stroke="#eeeeff" stroke-width="1.4" opacity="0.6"/><ellipse cx="605.55" cy="89.74" rx="3.40" ry="2.40" fill="#fff" opacity="0.85"/><ellipse cx="619.90" cy="93.41" rx="3.80" ry="2.40" fill="#fff" opacity="0.9"/><ellipse cx="634.25" cy="89.74" rx="3.40" ry="2.40" fill="#fff" opacity="0.85"/><ellipse cx="611.70" cy="93.94" rx="1.60" ry="1.20" fill="#fff" opacity="0.5"/><ellipse cx="628.10" cy="93.94" rx="1.60" ry="1.20" fill="#fff" opacity="0.5"/><ellipse cx="619.90" cy="118.04" rx="4.80" ry="1.80" fill="#fff" opacity="0.8"/><ellipse cx="619.90" cy="122.76" rx="3.20" ry="1.40" fill="#fff" opacity="0.65"/><ellipse cx="619.90" cy="131.14" rx="4.80" ry="2.00" fill="#fff" opacity="0.9"/><ellipse cx="603.50" cy="128.00" rx="2.40" ry="1.60" fill="#fff" opacity="0.75"/><ellipse cx="636.30" cy="128.00" rx="2.40" ry="1.60" fill="#fff" opacity="0.75"/><rect x="599.4" y="136.64" width="41.0" height="2.36" fill="#3a3036"/></g><defs><linearGradient id="v13h" x1="0" x2="1" y1="0" y2="0"><stop offset="0" stop-color="#916465"/><stop offset="0.12" stop-color="#7c6678"/><stop offset="0.5" stop-color="#a394a0"/><stop offset="0.88" stop-color="#7c6678"/><stop offset="1" stop-color="#916465"/></linearGradient></defs><rect x="641.7" y="86.6" width="41.0" height="52.4" fill="#2c2830"/><g filter="url(#vblur)"><path d="M642.73,86.60 L681.68,86.60 L681.68,129.57 Q681.68,136.90 662.20,136.90 Q642.73,136.90 642.73,129.57 Z" fill="url(#v13h)"/><path d="M649.90,125.38 L655.23,107.56 L659.74,125.38 Z" fill="#977a8c" opacity="0.45"/><path d="M674.50,125.38 L669.17,107.56 L664.66,125.38 Z" fill="#977a8c" opacity="0.45"/><path d="M642.73,103.89 L652.36,113.85 L649.90,125.38 L650.72,133.76 Q643.34,133.76 642.73,128.52 Z" fill="#3646a2" opacity="0.72"/><path d="M681.68,103.89 L672.04,113.85 L674.50,125.38 L673.68,133.76 Q681.06,133.76 681.68,128.52 Z" fill="#3646a2" opacity="0.72"/><path d="M642.73,86.60 L681.68,86.60 L681.68,92.89 Q662.20,101.27 642.73,92.89 Z" fill="#4858ae" opacity="0.9"/><path d="M642.73,86.60 L681.68,86.60 L681.68,87.65 Q662.20,89.74 642.73,87.65 Z" fill="#2a2634" opacity="0.7"/><rect x="658.92" y="97.08" width="6.56" height="22.01" fill="#fff" opacity="0.15"/><path d="M649.90,126.42 L674.50,126.42 L674.50,133.76 Q662.20,137.43 649.90,133.76 Z" fill="#d8d8f4" opacity="0.28"/><path d="M645.80,125.38 L678.60,125.38" stroke="#e4e4fa" stroke-width="0.9" opacity="0.5"/><path d="M644.16,126.42 Q662.20,139.00 680.24,126.42" fill="none" stroke="#eeeeff" stroke-width="1.4" opacity="0.6"/><ellipse cx="647.85" cy="89.74" rx="3.40" ry="2.40" fill="#fff" opacity="0.85"/><ellipse cx="662.20" cy="93.41" rx="3.80" ry="2.40" fill="#fff" opacity="0.9"/><ellipse cx="676.55" cy="89.74" rx="3.40" ry="2.40" fill="#fff" opacity="0.85"/><ellipse cx="654.00" cy="93.94" rx="1.60" ry="1.20" fill="#fff" opacity="0.5"/><ellipse cx="670.40" cy="93.94" rx="1.60" ry="1.20" fill="#fff" opacity="0.5"/><ellipse cx="662.20" cy="118.04" rx="4.80" ry="1.80" fill="#fff" opacity="0.8"/><ellipse cx="662.20" cy="122.76" rx="3.20" ry="1.40" fill="#fff" opacity="0.65"/><ellipse cx="662.20" cy="131.14" rx="4.80" ry="2.00" fill="#fff" opacity="0.9"/><ellipse cx="645.80" cy="128.00" rx="2.40" ry="1.60" fill="#fff" opacity="0.75"/><ellipse cx="678.60" cy="128.00" rx="2.40" ry="1.60" fill="#fff" opacity="0.75"/><rect x="641.7" y="136.64" width="41.0" height="2.36" fill="#3a3036"/></g><defs><linearGradient id="v20h" x1="0" x2="1" y1="0" y2="0"><stop offset="0" stop-color="#9594d0"/><stop offset="0.12" stop-color="#9e9cda"/><stop offset="0.5" stop-color="#bbbae5"/><stop offset="0.88" stop-color="#9e9cda"/><stop offset="1" stop-color="#9594d0"/></linearGradient></defs><rect x="513.9" y="142.0" width="41.0" height="52.4" fill="#2c2830"/><g filter="url(#vblur)"><path d="M514.92,142.00 L553.88,142.00 L553.88,184.97 Q553.88,192.30 534.40,192.30 Q514.92,192.30 514.92,184.97 Z" fill="url(#v20h)"/><path d="M522.10,180.78 L527.43,162.96 L531.94,180.78 Z" fill="#ad9dcb" opacity="0.45"/><path d="M546.70,180.78 L541.37,162.96 L536.86,180.78 Z" fill="#ad9dcb" opacity="0.45"/><path d="M514.92,159.29 L524.56,169.25 L522.10,180.78 L522.92,189.16 Q515.54,189.16 514.92,183.92 Z" fill="#6a78c8" opacity="0.6"/><path d="M553.88,159.29 L544.24,169.25 L546.70,180.78 L545.88,189.16 Q553.26,189.16 553.88,183.92 Z" fill="#6a78c8" opacity="0.6"/><path d="M514.92,142.00 L553.88,142.00 L553.88,148.29 Q534.40,156.67 514.92,148.29 Z" fill="#8e9ce2" opacity="0.9"/><path d="M514.92,142.00 L553.88,142.00 L553.88,143.05 Q534.40,145.14 514.92,143.05 Z" fill="#2a2634" opacity="0.7"/><rect x="531.12" y="152.48" width="6.56" height="22.01" fill="#fff" opacity="0.15"/><path d="M522.10,181.82 L546.70,181.82 L546.70,189.16 Q534.40,192.83 522.10,189.16 Z" fill="#d8d8f4" opacity="0.28"/><path d="M518.00,180.78 L550.80,180.78" stroke="#e4e4fa" stroke-width="0.9" opacity="0.5"/><path d="M516.36,181.82 Q534.40,194.40 552.44,181.82" fill="none" stroke="#eeeeff" stroke-width="1.4" opacity="0.6"/><ellipse cx="520.05" cy="145.14" rx="3.40" ry="2.40" fill="#fff" opacity="0.85"/><ellipse cx="534.40" cy="148.81" rx="3.80" ry="2.40" fill="#fff" opacity="0.9"/><ellipse cx="548.75" cy="145.14" rx="3.40" ry="2.40" fill="#fff" opacity="0.85"/><ellipse cx="526.20" cy="149.34" rx="1.60" ry="1.20" fill="#fff" opacity="0.5"/><ellipse cx="542.60" cy="149.34" rx="1.60" ry="1.20" fill="#fff" opacity="0.5"/><ellipse cx="534.40" cy="173.44" rx="4.80" ry="1.80" fill="#fff" opacity="0.8"/><ellipse cx="534.40" cy="178.16" rx="3.20" ry="1.40" fill="#fff" opacity="0.65"/><ellipse cx="534.40" cy="186.54" rx="4.80" ry="2.00" fill="#fff" opacity="0.9"/><ellipse cx="518.00" cy="183.40" rx="2.40" ry="1.60" fill="#fff" opacity="0.75"/><ellipse cx="550.80" cy="183.40" rx="2.40" ry="1.60" fill="#fff" opacity="0.75"/><rect x="513.9" y="192.04" width="41.0" height="2.36" fill="#3a3036"/></g><defs><linearGradient id="v21h" x1="0" x2="1" y1="0" y2="0"><stop offset="0" stop-color="#966b7a"/><stop offset="0.12" stop-color="#84729c"/><stop offset="0.5" stop-color="#a99cba"/><stop offset="0.88" stop-color="#84729c"/><stop offset="1" stop-color="#966b7a"/></linearGradient></defs><rect x="556.7" y="142.0" width="41.0" height="52.4" fill="#2c2830"/><g filter="url(#vblur)"><path d="M557.73,142.00 L596.68,142.00 L596.68,184.97 Q596.68,192.30 577.20,192.30 Q557.73,192.30 557.73,184.97 Z" fill="url(#v21h)"/><path d="M564.90,180.78 L570.23,162.96 L574.74,180.78 Z" fill="#9c82a3" opacity="0.45"/><path d="M589.50,180.78 L584.17,162.96 L579.66,180.78 Z" fill="#9c82a3" opacity="0.45"/><path d="M557.73,159.29 L567.36,169.25 L564.90,180.78 L565.72,189.16 Q558.34,189.16 557.73,183.92 Z" fill="#3646a2" opacity="0.72"/><path d="M596.68,159.29 L587.04,169.25 L589.50,180.78 L588.68,189.16 Q596.06,189.16 596.68,183.92 Z" fill="#3646a2" opacity="0.72"/><path d="M557.73,142.00 L596.68,142.00 L596.68,148.29 Q577.20,156.67 557.73,148.29 Z" fill="#4858ae" opacity="0.9"/><path d="M557.73,142.00 L596.68,142.00 L596.68,143.05 Q577.20,145.14 557.73,143.05 Z" fill="#2a2634" opacity="0.7"/><rect x="573.92" y="152.48" width="6.56" height="22.01" fill="#fff" opacity="0.15"/><path d="M564.90,181.82 L589.50,181.82 L589.50,189.16 Q577.20,192.83 564.90,189.16 Z" fill="#d8d8f4" opacity="0.28"/><path d="M560.80,180.78 L593.60,180.78" stroke="#e4e4fa" stroke-width="0.9" opacity="0.5"/><path d="M559.16,181.82 Q577.20,194.40 595.24,181.82" fill="none" stroke="#eeeeff" stroke-width="1.4" opacity="0.6"/><ellipse cx="562.85" cy="145.14" rx="3.40" ry="2.40" fill="#fff" opacity="0.85"/><ellipse cx="577.20" cy="148.81" rx="3.80" ry="2.40" fill="#fff" opacity="0.9"/><ellipse cx="591.55" cy="145.14" rx="3.40" ry="2.40" fill="#fff" opacity="0.85"/><ellipse cx="569.00" cy="149.34" rx="1.60" ry="1.20" fill="#fff" opacity="0.5"/><ellipse cx="585.40" cy="149.34" rx="1.60" ry="1.20" fill="#fff" opacity="0.5"/><ellipse cx="577.20" cy="173.44" rx="4.80" ry="1.80" fill="#fff" opacity="0.8"/><ellipse cx="577.20" cy="178.16" rx="3.20" ry="1.40" fill="#fff" opacity="0.65"/><ellipse cx="577.20" cy="186.54" rx="4.80" ry="2.00" fill="#fff" opacity="0.9"/><ellipse cx="560.80" cy="183.40" rx="2.40" ry="1.60" fill="#fff" opacity="0.75"/><ellipse cx="593.60" cy="183.40" rx="2.40" ry="1.60" fill="#fff" opacity="0.75"/><rect x="556.7" y="192.04" width="41.0" height="2.36" fill="#3a3036"/></g><defs><linearGradient id="v22h" x1="0" x2="1" y1="0" y2="0"><stop offset="0" stop-color="#92656e"/><stop offset="0.12" stop-color="#7e6888"/><stop offset="0.5" stop-color="#a595ac"/><stop offset="0.88" stop-color="#7e6888"/><stop offset="1" stop-color="#92656e"/></linearGradient></defs><rect x="599.4" y="142.0" width="41.0" height="52.4" fill="#2c2830"/><g filter="url(#vblur)"><path d="M600.42,142.00 L639.38,142.00 L639.38,184.97 Q639.38,192.30 619.90,192.30 Q600.42,192.30 600.42,184.97 Z" fill="url(#v22h)"/><path d="M607.60,180.78 L612.93,162.96 L617.44,180.78 Z" fill="#987c96" opacity="0.45"/><path d="M632.20,180.78 L626.87,162.96 L622.36,180.78 Z" fill="#987c96" opacity="0.45"/><path d="M600.42,159.29 L610.06,169.25 L607.60,180.78 L608.42,189.16 Q601.04,189.16 600.42,183.92 Z" fill="#3646a2" opacity="0.72"/><path d="M639.38,159.29 L629.74,169.25 L632.20,180.78 L631.38,189.16 Q638.76,189.16 639.38,183.92 Z" fill="#3646a2" opacity="0.72"/><path d="M600.42,142.00 L639.38,142.00 L639.38,148.29 Q619.90,156.67 600.42,148.29 Z" fill="#4858ae" opacity="0.9"/><path d="M600.42,142.00 L639.38,142.00 L639.38,143.05 Q619.90,145.14 600.42,143.05 Z" fill="#2a2634" opacity="0.7"/><rect x="616.62" y="152.48" width="6.56" height="22.01" fill="#fff" opacity="0.15"/><path d="M607.60,181.82 L632.20,181.82 L632.20,189.16 Q619.90,192.83 607.60,189.16 Z" fill="#d8d8f4" opacity="0.28"/><path d="M603.50,180.78 L636.30,180.78" stroke="#e4e4fa" stroke-width="0.9" opacity="0.5"/><path d="M601.86,181.82 Q619.90,194.40 637.94,181.82" fill="none" stroke="#eeeeff" stroke-width="1.4" opacity="0.6"/><ellipse cx="605.55" cy="145.14" rx="3.40" ry="2.40" fill="#fff" opacity="0.85"/><ellipse cx="619.90" cy="148.81" rx="3.80" ry="2.40" fill="#fff" opacity="0.9"/><ellipse cx="634.25" cy="145.14" rx="3.40" ry="2.40" fill="#fff" opacity="0.85"/><ellipse cx="611.70" cy="149.34" rx="1.60" ry="1.20" fill="#fff" opacity="0.5"/><ellipse cx="628.10" cy="149.34" rx="1.60" ry="1.20" fill="#fff" opacity="0.5"/><ellipse cx="619.90" cy="173.44" rx="4.80" ry="1.80" fill="#fff" opacity="0.8"/><ellipse cx="619.90" cy="178.16" rx="3.20" ry="1.40" fill="#fff" opacity="0.65"/><ellipse cx="619.90" cy="186.54" rx="4.80" ry="2.00" fill="#fff" opacity="0.9"/><ellipse cx="603.50" cy="183.40" rx="2.40" ry="1.60" fill="#fff" opacity="0.75"/><ellipse cx="636.30" cy="183.40" rx="2.40" ry="1.60" fill="#fff" opacity="0.75"/><rect x="599.4" y="192.04" width="41.0" height="2.36" fill="#3a3036"/></g><defs><linearGradient id="v23h" x1="0" x2="1" y1="0" y2="0"><stop offset="0" stop-color="#91626a"/><stop offset="0.12" stop-color="#7c6480"/><stop offset="0.5" stop-color="#a392a6"/><stop offset="0.88" stop-color="#7c6480"/><stop offset="1" stop-color="#91626a"/></linearGradient></defs><rect x="641.7" y="142.0" width="41.0" height="52.4" fill="#2c2830"/><g filter="url(#vblur)"><path d="M642.73,142.00 L681.68,142.00 L681.68,184.97 Q681.68,192.30 662.20,192.30 Q642.73,192.30 642.73,184.97 Z" fill="url(#v23h)"/><path d="M649.90,180.78 L655.23,162.96 L659.74,180.78 Z" fill="#977991" opacity="0.45"/><path d="M674.50,180.78 L669.17,162.96 L664.66,180.78 Z" fill="#977991" opacity="0.45"/><path d="M642.73,159.29 L652.36,169.25 L649.90,180.78 L650.72,189.16 Q643.34,189.16 642.73,183.92 Z" fill="#3646a2" opacity="0.72"/><path d="M681.68,159.29 L672.04,169.25 L674.50,180.78 L673.68,189.16 Q681.06,189.16 681.68,183.92 Z" fill="#3646a2" opacity="0.72"/><path d="M642.73,142.00 L681.68,142.00 L681.68,148.29 Q662.20,156.67 642.73,148.29 Z" fill="#4858ae" opacity="0.9"/><path d="M642.73,142.00 L681.68,142.00 L681.68,143.05 Q662.20,145.14 642.73,143.05 Z" fill="#2a2634" opacity="0.7"/><rect x="658.92" y="152.48" width="6.56" height="22.01" fill="#fff" opacity="0.15"/><path d="M649.90,181.82 L674.50,181.82 L674.50,189.16 Q662.20,192.83 649.90,189.16 Z" fill="#d8d8f4" opacity="0.28"/><path d="M645.80,180.78 L678.60,180.78" stroke="#e4e4fa" stroke-width="0.9" opacity="0.5"/><path d="M644.16,181.82 Q662.20,194.40 680.24,181.82" fill="none" stroke="#eeeeff" stroke-width="1.4" opacity="0.6"/><ellipse cx="647.85" cy="145.14" rx="3.40" ry="2.40" fill="#fff" opacity="0.85"/><ellipse cx="662.20" cy="148.81" rx="3.80" ry="2.40" fill="#fff" opacity="0.9"/><ellipse cx="676.55" cy="145.14" rx="3.40" ry="2.40" fill="#fff" opacity="0.85"/><ellipse cx="654.00" cy="149.34" rx="1.60" ry="1.20" fill="#fff" opacity="0.5"/><ellipse cx="670.40" cy="149.34" rx="1.60" ry="1.20" fill="#fff" opacity="0.5"/><ellipse cx="662.20" cy="173.44" rx="4.80" ry="1.80" fill="#fff" opacity="0.8"/><ellipse cx="662.20" cy="178.16" rx="3.20" ry="1.40" fill="#fff" opacity="0.65"/><ellipse cx="662.20" cy="186.54" rx="4.80" ry="2.00" fill="#fff" opacity="0.9"/><ellipse cx="645.80" cy="183.40" rx="2.40" ry="1.60" fill="#fff" opacity="0.75"/><ellipse cx="678.60" cy="183.40" rx="2.40" ry="1.60" fill="#fff" opacity="0.75"/><rect x="641.7" y="192.04" width="41.0" height="2.36" fill="#3a3036"/></g><defs><filter id="gblur" x="-20%" y="-20%" width="140%" height="140%"><feGaussianBlur stdDeviation="1.15"/></filter><filter id="bblur" x="-50%" y="-80%" width="200%" height="260%"><feGaussianBlur stdDeviation="0.8"/></filter></defs><text x="42.20" y="232.00" font-size="19.2" fill="#222" text-anchor="start" >D</text><text x="399.60" y="232.00" font-size="19.2" fill="#222" text-anchor="start" >E</text><defs><linearGradient id="gD" x1="0" x2="1" y1="0" y2="0"><stop offset="0" stop-color="#646464"/><stop offset="0.2" stop-color="#6a6a6a"/><stop offset="0.7" stop-color="#6b6b6b"/><stop offset="1" stop-color="#606060"/></linearGradient></defs><rect x="45.0" y="239.3" width="285.5" height="154.5" fill="url(#gD)"/><g filter="url(#gblur)"><rect x="48.8" y="294.40" width="14.4" height="32.20" fill="#fff" opacity="0.12"/><rect x="48.8" y="295.70" width="14.4" height="3.4" fill="#fff" opacity="0.62"/><rect x="48.8" y="300.20" width="14.4" height="3.4" fill="#fff" opacity="0.62"/><rect x="48.8" y="305.30" width="14.4" height="3.4" fill="#fff" opacity="0.6"/><rect x="48.8" y="310.90" width="14.4" height="3.4" fill="#fff" opacity="0.58"/><rect x="48.8" y="316.90" width="14.4" height="3.6" fill="#fff" opacity="0.58"/><rect x="48.8" y="324.10" width="14.4" height="5.0" fill="#fff" opacity="1.0"/><rect x="48.8" y="332.90" width="14.4" height="3.4" fill="#fff" opacity="0.42"/><rect x="48.8" y="342.30" width="14.4" height="3.8" fill="#fff" opacity="0.36"/><rect x="48.8" y="354.30" width="14.4" height="4.2" fill="#fff" opacity="0.3"/><rect x="48.8" y="368.10" width="14.4" height="4.6" fill="#fff" opacity="0.26"/><rect x="69.6" y="242" width="14" height="130" fill="#fff" opacity="0.06"/><rect x="69.6" y="312" width="14" height="13" fill="#fff" opacity="0.18"/><rect x="69.6" y="315.8" width="14" height="5.6" rx="1" fill="#fff" opacity="1"/><defs><linearGradient id="dsm" x1="0" x2="0" y1="0" y2="1"><stop offset="0" stop-color="#fff" stop-opacity="0.12"/><stop offset="1" stop-color="#fff" stop-opacity="0"/></linearGradient></defs><rect x="69.6" y="321" width="14" height="40" fill="url(#dsm)"/></g><text transform="translate(58.2,284.9) rotate(-90)" font-size="12.2" fill="#ececec">100 bp</text><text transform="translate(80.0,287.5) rotate(-90)" font-size="12.2" fill="#ececec">dsRNA</text><line x1="88.40" y1="260.4" x2="163.60" y2="260.4" stroke="#dedede" stroke-width="1"/><text x="126.90" y="254.90" font-size="12.3" fill="#ececec" text-anchor="middle" >L:P 4</text><text x="89.40" y="276.10" font-size="12.3" fill="#ececec" text-anchor="start" >TFR:</text><line x1="169.00" y1="260.4" x2="244.20" y2="260.4" stroke="#dedede" stroke-width="1"/><text x="207.50" y="254.90" font-size="12.3" fill="#ececec" text-anchor="middle" >L:P 6</text><text x="170.00" y="276.10" font-size="12.3" fill="#ececec" text-anchor="start" >TFR:</text><line x1="249.60" y1="260.4" x2="324.80" y2="260.4" stroke="#dedede" stroke-width="1"/><text x="288.10" y="254.90" font-size="12.3" fill="#ececec" text-anchor="middle" >L:P 8</text><text x="250.60" y="276.10" font-size="12.3" fill="#ececec" text-anchor="start" >TFR:</text><text x="96.00" y="294.80" font-size="12.3" fill="#ececec" text-anchor="middle" >4</text><text x="116.15" y="294.80" font-size="12.3" fill="#ececec" text-anchor="middle" >8</text><text x="136.30" y="294.80" font-size="12.3" fill="#ececec" text-anchor="middle" >12</text><text x="156.45" y="294.80" font-size="12.3" fill="#ececec" text-anchor="middle" >16</text><text x="176.60" y="294.80" font-size="12.3" fill="#ececec" text-anchor="middle" >4</text><text x="196.75" y="294.80" font-size="12.3" fill="#ececec" text-anchor="middle" >8</text><text x="216.90" y="294.80" font-size="12.3" fill="#ececec" text-anchor="middle" >12</text><text x="237.05" y="294.80" font-size="12.3" fill="#ececec" text-anchor="middle" >16</text><text x="257.20" y="294.80" font-size="12.3" fill="#ececec" text-anchor="middle" >4</text><text x="277.35" y="294.80" font-size="12.3" fill="#ececec" text-anchor="middle" >8</text><text x="297.50" y="294.80" font-size="12.3" fill="#ececec" text-anchor="middle" >12</text><text x="317.65" y="294.80" font-size="12.3" fill="#ececec" text-anchor="middle" >16</text><defs><linearGradient id="gE" x1="0" x2="0" y1="0" y2="1"><stop offset="0" stop-color="#6c6c6c"/><stop offset="0.5" stop-color="#6a6a6a"/><stop offset="0.72" stop-color="#5e5e5e"/><stop offset="1" stop-color="#5a5a5a"/></linearGradient><linearGradient id="laneE" x1="0" x2="0" y1="240" y2="394" gradientUnits="userSpaceOnUse"><stop offset="0" stop-color="#fff" stop-opacity="0.06"/><stop offset="0.40" stop-color="#fff" stop-opacity="0.09"/><stop offset="0.45" stop-color="#fff" stop-opacity="0.2"/><stop offset="0.50" stop-color="#fff" stop-opacity="0.32"/><stop offset="0.56" stop-color="#fff" stop-opacity="0.2"/><stop offset="0.63" stop-color="#fff" stop-opacity="0.1"/><stop offset="0.72" stop-color="#fff" stop-opacity="0.03"/><stop offset="1" stop-color="#fff" stop-opacity="0"/></linearGradient></defs><rect x="395.5" y="239.3" width="285.5" height="154.5" fill="url(#gE)"/><g filter="url(#gblur)"><rect x="400.0" y="292.20" width="14.4" height="32.70" fill="#fff" opacity="0.12"/><rect x="400.0" y="293.50" width="14.4" height="3.4" fill="#fff" opacity="0.66"/><rect x="400.0" y="298.00" width="14.4" height="3.4" fill="#fff" opacity="0.66"/><rect x="400.0" y="303.30" width="14.4" height="3.4" fill="#fff" opacity="0.64"/><rect x="400.0" y="308.90" width="14.4" height="3.4" fill="#fff" opacity="0.62"/><rect x="400.0" y="315.10" width="14.4" height="3.6" fill="#fff" opacity="0.6"/><rect x="400.0" y="322.40" width="14.4" height="5.0" fill="#fff" opacity="1.0"/><rect x="400.0" y="331.60" width="14.4" height="3.4" fill="#fff" opacity="0.42"/><rect x="400.0" y="341.70" width="14.4" height="3.8" fill="#fff" opacity="0.36"/><rect x="400.0" y="354.20" width="14.4" height="4.2" fill="#fff" opacity="0.3"/><rect x="400.0" y="368.80" width="14.4" height="4.6" fill="#fff" opacity="0.26"/><rect x="420.90000000000003" y="242" width="14.6" height="130" fill="#fff" opacity="0.05"/><rect x="420.90000000000003" y="314.5" width="14.6" height="9" fill="#fff" opacity="0.15"/><rect x="420.90000000000003" y="317.3" width="14.6" height="3.6" fill="#fff" opacity="0.75"/><rect x="441.60" y="240" width="13.2" height="154" fill="url(#laneE)"/><rect x="441.80" y="313.2" width="12.8" height="6.8" rx="2" fill="#fff" opacity="0.8" filter="url(#bblur)"/><rect x="461.75" y="240" width="13.2" height="154" fill="url(#laneE)"/><rect x="461.95" y="313.2" width="12.8" height="6.8" rx="2" fill="#fff" opacity="0.8" filter="url(#bblur)"/><rect x="481.90" y="240" width="13.2" height="154" fill="url(#laneE)"/><rect x="482.10" y="313.2" width="12.8" height="6.8" rx="2" fill="#fff" opacity="0.8" filter="url(#bblur)"/><rect x="502.05" y="240" width="13.2" height="154" fill="url(#laneE)"/><rect x="502.25" y="313.2" width="12.8" height="6.8" rx="2" fill="#fff" opacity="0.8" filter="url(#bblur)"/><rect x="522.20" y="240" width="13.2" height="154" fill="url(#laneE)"/><rect x="522.40" y="313.2" width="12.8" height="6.8" rx="2" fill="#fff" opacity="0.8" filter="url(#bblur)"/><rect x="542.35" y="240" width="13.2" height="154" fill="url(#laneE)"/><rect x="542.55" y="313.2" width="12.8" height="6.8" rx="2" fill="#fff" opacity="0.8" filter="url(#bblur)"/><rect x="562.50" y="240" width="13.2" height="154" fill="url(#laneE)"/><rect x="562.70" y="313.2" width="12.8" height="6.8" rx="2" fill="#fff" opacity="0.8" filter="url(#bblur)"/><rect x="582.65" y="240" width="13.2" height="154" fill="url(#laneE)"/><rect x="582.85" y="313.2" width="12.8" height="6.8" rx="2" fill="#fff" opacity="0.8" filter="url(#bblur)"/><rect x="602.80" y="240" width="13.2" height="154" fill="url(#laneE)"/><rect x="603.00" y="313.2" width="12.8" height="6.8" rx="2" fill="#fff" opacity="0.8" filter="url(#bblur)"/><rect x="622.95" y="240" width="13.2" height="154" fill="url(#laneE)"/><rect x="623.15" y="313.2" width="12.8" height="6.8" rx="2" fill="#fff" opacity="0.8" filter="url(#bblur)"/><rect x="643.10" y="240" width="13.2" height="154" fill="url(#laneE)"/><rect x="643.30" y="313.2" width="12.8" height="6.8" rx="2" fill="#fff" opacity="0.8" filter="url(#bblur)"/><rect x="663.25" y="240" width="13.2" height="154" fill="url(#laneE)"/><rect x="663.45" y="313.2" width="12.8" height="6.8" rx="2" fill="#fff" opacity="0.8" filter="url(#bblur)"/></g><text transform="translate(409.8,284.9) rotate(-90)" font-size="12.2" fill="#ececec">100 bp</text><text transform="translate(431.6,287.5) rotate(-90)" font-size="12.2" fill="#ececec">dsRNA</text><line x1="440.00" y1="260.4" x2="515.20" y2="260.4" stroke="#dedede" stroke-width="1"/><text x="478.50" y="254.90" font-size="12.3" fill="#ececec" text-anchor="middle" >L:P 4</text><text x="441.00" y="276.10" font-size="12.3" fill="#ececec" text-anchor="start" >TFR:</text><line x1="520.60" y1="260.4" x2="595.80" y2="260.4" stroke="#dedede" stroke-width="1"/><text x="559.10" y="254.90" font-size="12.3" fill="#ececec" text-anchor="middle" >L:P 6</text><text x="521.60" y="276.10" font-size="12.3" fill="#ececec" text-anchor="start" >TFR:</text><line x1="601.20" y1="260.4" x2="676.40" y2="260.4" stroke="#dedede" stroke-width="1"/><text x="639.70" y="254.90" font-size="12.3" fill="#ececec" text-anchor="middle" >L:P 8</text><text x="602.20" y="276.10" font-size="12.3" fill="#ececec" text-anchor="start" >TFR:</text><text x="447.60" y="294.80" font-size="12.3" fill="#ececec" text-anchor="middle" >4</text><text x="467.75" y="294.80" font-size="12.3" fill="#ececec" text-anchor="middle" >8</text><text x="487.90" y="294.80" font-size="12.3" fill="#ececec" text-anchor="middle" >12</text><text x="508.05" y="294.80" font-size="12.3" fill="#ececec" text-anchor="middle" >16</text><text x="528.20" y="294.80" font-size="12.3" fill="#ececec" text-anchor="middle" >4</text><text x="548.35" y="294.80" font-size="12.3" fill="#ececec" text-anchor="middle" >8</text><text x="568.50" y="294.80" font-size="12.3" fill="#ececec" text-anchor="middle" >12</text><text x="588.65" y="294.80" font-size="12.3" fill="#ececec" text-anchor="middle" >16</text><text x="608.80" y="294.80" font-size="12.3" fill="#ececec" text-anchor="middle" >4</text><text x="628.95" y="294.80" font-size="12.3" fill="#ececec" text-anchor="middle" >8</text><text x="649.10" y="294.80" font-size="12.3" fill="#ececec" text-anchor="middle" >12</text><text x="669.25" y="294.80" font-size="12.3" fill="#ececec" text-anchor="middle" >16</text><rect x="44.6" y="444.4" width="175.30" height="153.00" fill="none" stroke="#9a9a9a" stroke-width="0.9"/><line x1="44.6" y1="444.40" x2="50.60" y2="444.40" stroke="#9a9a9a" stroke-width="0.9"/><text x="37.40" y="448.40" font-size="12.4" fill="#222" text-anchor="end" >150</text><line x1="44.6" y1="475.00" x2="50.60" y2="475.00" stroke="#9a9a9a" stroke-width="0.9"/><text x="37.40" y="479.00" font-size="12.4" fill="#222" text-anchor="end" >125</text><line x1="44.6" y1="505.60" x2="50.60" y2="505.60" stroke="#9a9a9a" stroke-width="0.9"/><text x="37.40" y="509.60" font-size="12.4" fill="#222" text-anchor="end" >100</text><line x1="44.6" y1="536.20" x2="50.60" y2="536.20" stroke="#9a9a9a" stroke-width="0.9"/><text x="37.40" y="540.20" font-size="12.4" fill="#222" text-anchor="end" >75</text><line x1="44.6" y1="566.80" x2="50.60" y2="566.80" stroke="#9a9a9a" stroke-width="0.9"/><text x="37.40" y="570.80" font-size="12.4" fill="#222" text-anchor="end" >50</text><line x1="44.6" y1="597.40" x2="50.60" y2="597.40" stroke="#9a9a9a" stroke-width="0.9"/><text x="37.40" y="601.40" font-size="12.4" fill="#222" text-anchor="end" >25</text><line x1="44.6" y1="459.70" x2="48.10" y2="459.70" stroke="#9a9a9a" stroke-width="0.9"/><line x1="44.6" y1="490.30" x2="48.10" y2="490.30" stroke="#9a9a9a" stroke-width="0.9"/><line x1="44.6" y1="520.90" x2="48.10" y2="520.90" stroke="#9a9a9a" stroke-width="0.9"/><line x1="44.6" y1="551.50" x2="48.10" y2="551.50" stroke="#9a9a9a" stroke-width="0.9"/><line x1="44.6" y1="582.10" x2="48.10" y2="582.10" stroke="#9a9a9a" stroke-width="0.9"/><line x1="59.20" y1="597.4" x2="59.20" y2="591.60" stroke="#9a9a9a" stroke-width="0.9"/><text x="59.20" y="614.60" font-size="12.4" fill="#222" text-anchor="middle" >4</text><line x1="108.08" y1="597.4" x2="108.08" y2="591.60" stroke="#9a9a9a" stroke-width="0.9"/><text x="108.08" y="614.60" font-size="12.4" fill="#222" text-anchor="middle" >8</text><line x1="156.96" y1="597.4" x2="156.96" y2="591.60" stroke="#9a9a9a" stroke-width="0.9"/><text x="156.96" y="614.60" font-size="12.4" fill="#222" text-anchor="middle" >12</text><line x1="205.84" y1="597.4" x2="205.84" y2="591.60" stroke="#9a9a9a" stroke-width="0.9"/><text x="205.84" y="614.60" font-size="12.4" fill="#222" text-anchor="middle" >16</text><text x="132.25" y="635.60" font-size="12.5" fill="#222" text-anchor="middle" >TFR (mL/min)</text><text transform="translate(10.5,520.50) rotate(-90)" font-size="12.5" fill="#222" text-anchor="middle">Size (nm)</text><text x="41.40" y="435.60" font-size="19.8" fill="#222" text-anchor="start" >F</text><text x="130.60" y="456.30" font-size="9.5" fill="#222" text-anchor="middle" >L:P Ratio</text><line x1="100.70" y1="463.60" x2="111.70" y2="463.60" stroke="#58a8f0" stroke-width="1"/><text x="114.10" y="466.90" font-size="9.7" fill="#333" text-anchor="start" >4</text><line x1="122.00" y1="463.60" x2="132.70" y2="463.60" stroke="#b864ea" stroke-width="1"/><text x="135.10" y="466.90" font-size="9.7" fill="#333" text-anchor="start" >6</text><line x1="143.00" y1="463.60" x2="153.80" y2="463.60" stroke="#4a4a4a" stroke-width="1"/><text x="156.20" y="466.90" font-size="9.7" fill="#333" text-anchor="start" >8</text><path d="M59.20,502.80 L62.96,505.60 L66.72,508.32 L70.48,510.95 L74.24,513.51 L78.00,515.99 L81.76,518.39 L85.52,520.71 L89.28,522.95 L93.04,525.11 L96.80,527.19 L100.56,529.19 L104.32,531.12 L108.08,532.96 L111.84,534.73 L115.60,536.41 L119.36,538.02 L123.12,539.55 L126.88,540.99 L130.64,542.36 L134.40,543.65 L138.16,544.86 L141.92,545.99 L145.68,547.04 L149.44,548.01 L153.20,548.91 L156.96,549.72 L160.72,550.45 L164.48,551.11 L168.24,551.68 L172.00,552.18 L175.76,552.60 L179.52,552.93 L183.28,553.19 L187.04,553.37 L190.80,553.47 L194.56,553.49 L198.32,553.43 L202.08,553.29 L205.84,553.07" fill="none" stroke="#58a8f0" stroke-width="0.8"/><path d="M59.20,507.99 L62.96,511.44 L66.72,514.79 L70.48,518.04 L74.24,521.19 L78.00,524.23 L81.76,527.18 L85.52,530.02 L89.28,532.76 L93.04,535.40 L96.80,537.94 L100.56,540.38 L104.32,542.72 L108.08,544.95 L111.84,547.09 L115.60,549.12 L119.36,551.05 L123.12,552.88 L126.88,554.61 L130.64,556.23 L134.40,557.76 L138.16,559.18 L141.92,560.50 L145.68,561.73 L149.44,562.85 L153.20,563.86 L156.96,564.78 L160.72,565.60 L164.48,566.31 L168.24,566.92 L172.00,567.43 L175.76,567.84 L179.52,568.15 L183.28,568.36 L187.04,568.47 L190.80,568.47 L194.56,568.37 L198.32,568.17 L202.08,567.87 L205.84,567.47" fill="none" stroke="#b864ea" stroke-width="0.8"/><path d="M59.20,513.79 L62.96,516.77 L66.72,519.68 L70.48,522.50 L74.24,525.24 L78.00,527.91 L81.76,530.49 L85.52,532.98 L89.28,535.40 L93.04,537.74 L96.80,539.99 L100.56,542.17 L104.32,544.26 L108.08,546.27 L111.84,548.20 L115.60,550.05 L119.36,551.82 L123.12,553.51 L126.88,555.12 L130.64,556.64 L134.40,558.09 L138.16,559.45 L141.92,560.73 L145.68,561.93 L149.44,563.05 L153.20,564.09 L156.96,565.05 L160.72,565.93 L164.48,566.72 L168.24,567.44 L172.00,568.07 L175.76,568.62 L179.52,569.09 L183.28,569.48 L187.04,569.79 L190.80,570.02 L194.56,570.16 L198.32,570.23 L202.08,570.21 L205.84,570.12" fill="none" stroke="#4a4a4a" stroke-width="0.8"/><line x1="59.20" y1="497.64" x2="59.20" y2="505.97" stroke="#58a8f0" stroke-width="0.7"/><line x1="56.20" y1="497.64" x2="62.20" y2="497.64" stroke="#58a8f0" stroke-width="0.7"/><line x1="56.20" y1="505.97" x2="62.20" y2="505.97" stroke="#58a8f0" stroke-width="0.7"/><rect x="57.40" y="500.01" width="3.6" height="3.6" fill="#fff" fill-opacity="0.7" stroke="#58a8f0" stroke-width="0.7"/><line x1="108.08" y1="519.68" x2="108.08" y2="533.87" stroke="#58a8f0" stroke-width="0.7"/><line x1="105.08" y1="519.68" x2="111.08" y2="519.68" stroke="#58a8f0" stroke-width="0.7"/><line x1="105.08" y1="533.87" x2="111.08" y2="533.87" stroke="#58a8f0" stroke-width="0.7"/><rect x="106.28" y="524.98" width="3.6" height="3.6" fill="#fff" fill-opacity="0.7" stroke="#58a8f0" stroke-width="0.7"/><line x1="156.96" y1="548.81" x2="156.96" y2="551.26" stroke="#58a8f0" stroke-width="0.7"/><line x1="153.96" y1="548.81" x2="159.96" y2="548.81" stroke="#58a8f0" stroke-width="0.7"/><line x1="153.96" y1="551.26" x2="159.96" y2="551.26" stroke="#58a8f0" stroke-width="0.7"/><rect x="155.16" y="548.23" width="3.6" height="3.6" fill="#fff" fill-opacity="0.7" stroke="#58a8f0" stroke-width="0.7"/><line x1="205.84" y1="551.13" x2="205.84" y2="554.07" stroke="#58a8f0" stroke-width="0.7"/><line x1="202.84" y1="551.13" x2="208.84" y2="551.13" stroke="#58a8f0" stroke-width="0.7"/><line x1="202.84" y1="554.07" x2="208.84" y2="554.07" stroke="#58a8f0" stroke-width="0.7"/><rect x="204.04" y="550.80" width="3.6" height="3.6" fill="#fff" fill-opacity="0.7" stroke="#58a8f0" stroke-width="0.7"/><line x1="59.20" y1="500.09" x2="59.20" y2="504.99" stroke="#b864ea" stroke-width="0.7"/><line x1="56.20" y1="500.09" x2="62.20" y2="500.09" stroke="#b864ea" stroke-width="0.7"/><line x1="56.20" y1="504.99" x2="62.20" y2="504.99" stroke="#b864ea" stroke-width="0.7"/><rect x="57.40" y="500.74" width="3.6" height="3.6" fill="#fff" fill-opacity="0.7" stroke="#b864ea" stroke-width="0.7"/><line x1="108.08" y1="546.24" x2="108.08" y2="551.13" stroke="#b864ea" stroke-width="0.7"/><line x1="105.08" y1="546.24" x2="111.08" y2="546.24" stroke="#b864ea" stroke-width="0.7"/><line x1="105.08" y1="551.13" x2="111.08" y2="551.13" stroke="#b864ea" stroke-width="0.7"/><rect x="106.28" y="546.88" width="3.6" height="3.6" fill="#fff" fill-opacity="0.7" stroke="#b864ea" stroke-width="0.7"/><line x1="156.96" y1="561.41" x2="156.96" y2="565.09" stroke="#b864ea" stroke-width="0.7"/><line x1="153.96" y1="561.41" x2="159.96" y2="561.41" stroke="#b864ea" stroke-width="0.7"/><line x1="153.96" y1="565.09" x2="159.96" y2="565.09" stroke="#b864ea" stroke-width="0.7"/><rect x="155.16" y="561.45" width="3.6" height="3.6" fill="#fff" fill-opacity="0.7" stroke="#b864ea" stroke-width="0.7"/><line x1="205.84" y1="568.15" x2="205.84" y2="571.82" stroke="#b864ea" stroke-width="0.7"/><line x1="202.84" y1="568.15" x2="208.84" y2="568.15" stroke="#b864ea" stroke-width="0.7"/><line x1="202.84" y1="571.82" x2="208.84" y2="571.82" stroke="#b864ea" stroke-width="0.7"/><rect x="204.04" y="568.18" width="3.6" height="3.6" fill="#fff" fill-opacity="0.7" stroke="#b864ea" stroke-width="0.7"/><line x1="59.20" y1="506.70" x2="59.20" y2="518.21" stroke="#4a4a4a" stroke-width="0.7"/><line x1="56.20" y1="506.70" x2="62.20" y2="506.70" stroke="#4a4a4a" stroke-width="0.7"/><line x1="56.20" y1="518.21" x2="62.20" y2="518.21" stroke="#4a4a4a" stroke-width="0.7"/><circle cx="59.20" cy="512.45" r="1.9" fill="#fff" fill-opacity="0.7" stroke="#4a4a4a" stroke-width="0.7"/><line x1="108.08" y1="544.77" x2="108.08" y2="553.34" stroke="#4a4a4a" stroke-width="0.7"/><line x1="105.08" y1="544.77" x2="111.08" y2="544.77" stroke="#4a4a4a" stroke-width="0.7"/><line x1="105.08" y1="553.34" x2="111.08" y2="553.34" stroke="#4a4a4a" stroke-width="0.7"/><circle cx="108.08" cy="549.05" r="1.9" fill="#fff" fill-opacity="0.7" stroke="#4a4a4a" stroke-width="0.7"/><line x1="156.96" y1="558.11" x2="156.96" y2="565.45" stroke="#4a4a4a" stroke-width="0.7"/><line x1="153.96" y1="558.11" x2="159.96" y2="558.11" stroke="#4a4a4a" stroke-width="0.7"/><line x1="153.96" y1="565.45" x2="159.96" y2="565.45" stroke="#4a4a4a" stroke-width="0.7"/><circle cx="156.96" cy="561.78" r="1.9" fill="#fff" fill-opacity="0.7" stroke="#4a4a4a" stroke-width="0.7"/><line x1="205.84" y1="566.92" x2="205.84" y2="573.04" stroke="#4a4a4a" stroke-width="0.7"/><line x1="202.84" y1="566.92" x2="208.84" y2="566.92" stroke="#4a4a4a" stroke-width="0.7"/><line x1="202.84" y1="573.04" x2="208.84" y2="573.04" stroke="#4a4a4a" stroke-width="0.7"/><circle cx="205.84" cy="569.98" r="1.9" fill="#fff" fill-opacity="0.7" stroke="#4a4a4a" stroke-width="0.7"/><rect x="275.1" y="444.4" width="175.30" height="153.00" fill="none" stroke="#9a9a9a" stroke-width="0.9"/><line x1="275.1" y1="444.40" x2="281.10" y2="444.40" stroke="#9a9a9a" stroke-width="0.9"/><text x="267.90" y="448.40" font-size="12.4" fill="#222" text-anchor="end" >50</text><line x1="275.1" y1="475.00" x2="281.10" y2="475.00" stroke="#9a9a9a" stroke-width="0.9"/><text x="267.90" y="479.00" font-size="12.4" fill="#222" text-anchor="end" >40</text><line x1="275.1" y1="505.60" x2="281.10" y2="505.60" stroke="#9a9a9a" stroke-width="0.9"/><text x="267.90" y="509.60" font-size="12.4" fill="#222" text-anchor="end" >30</text><line x1="275.1" y1="536.20" x2="281.10" y2="536.20" stroke="#9a9a9a" stroke-width="0.9"/><text x="267.90" y="540.20" font-size="12.4" fill="#222" text-anchor="end" >20</text><line x1="275.1" y1="566.80" x2="281.10" y2="566.80" stroke="#9a9a9a" stroke-width="0.9"/><text x="267.90" y="570.80" font-size="12.4" fill="#222" text-anchor="end" >10</text><line x1="275.1" y1="597.40" x2="281.10" y2="597.40" stroke="#9a9a9a" stroke-width="0.9"/><text x="267.90" y="601.40" font-size="12.4" fill="#222" text-anchor="end" >0</text><line x1="275.1" y1="459.70" x2="278.60" y2="459.70" stroke="#9a9a9a" stroke-width="0.9"/><line x1="275.1" y1="490.30" x2="278.60" y2="490.30" stroke="#9a9a9a" stroke-width="0.9"/><line x1="275.1" y1="520.90" x2="278.60" y2="520.90" stroke="#9a9a9a" stroke-width="0.9"/><line x1="275.1" y1="551.50" x2="278.60" y2="551.50" stroke="#9a9a9a" stroke-width="0.9"/><line x1="275.1" y1="582.10" x2="278.60" y2="582.10" stroke="#9a9a9a" stroke-width="0.9"/><line x1="289.70" y1="597.4" x2="289.70" y2="591.60" stroke="#9a9a9a" stroke-width="0.9"/><text x="289.70" y="614.60" font-size="12.4" fill="#222" text-anchor="middle" >4</text><line x1="338.58" y1="597.4" x2="338.58" y2="591.60" stroke="#9a9a9a" stroke-width="0.9"/><text x="338.58" y="614.60" font-size="12.4" fill="#222" text-anchor="middle" >8</text><line x1="387.46" y1="597.4" x2="387.46" y2="591.60" stroke="#9a9a9a" stroke-width="0.9"/><text x="387.46" y="614.60" font-size="12.4" fill="#222" text-anchor="middle" >12</text><line x1="436.34" y1="597.4" x2="436.34" y2="591.60" stroke="#9a9a9a" stroke-width="0.9"/><text x="436.34" y="614.60" font-size="12.4" fill="#222" text-anchor="middle" >16</text><text x="362.75" y="635.60" font-size="12.5" fill="#222" text-anchor="middle" >TFR (mL/min)</text><text transform="translate(248.0,520.50) rotate(-90)" font-size="12.5" fill="#222" text-anchor="middle">Zeta potential (mV)</text><text x="270.20" y="435.60" font-size="19.8" fill="#222" text-anchor="start" >G</text><text x="361.10" y="456.30" font-size="9.5" fill="#222" text-anchor="middle" >L:P ratio</text><line x1="331.20" y1="463.60" x2="342.20" y2="463.60" stroke="#58a8f0" stroke-width="1"/><text x="344.60" y="466.90" font-size="9.7" fill="#333" text-anchor="start" >4</text><line x1="352.50" y1="463.60" x2="363.20" y2="463.60" stroke="#b864ea" stroke-width="1"/><text x="365.60" y="466.90" font-size="9.7" fill="#333" text-anchor="start" >6</text><line x1="373.50" y1="463.60" x2="384.30" y2="463.60" stroke="#4a4a4a" stroke-width="1"/><text x="386.70" y="466.90" font-size="9.7" fill="#333" text-anchor="start" >8</text><path d="M289.70,524.83 L293.46,525.17 L297.22,525.52 L300.98,525.87 L304.74,526.22 L308.50,526.58 L312.26,526.94 L316.02,527.31 L319.78,527.68 L323.54,528.06 L327.30,528.44 L331.06,528.82 L334.82,529.21 L338.58,529.61 L342.34,530.00 L346.10,530.41 L349.86,530.82 L353.62,531.23 L357.38,531.65 L361.14,532.07 L364.90,532.49 L368.66,532.92 L372.42,533.36 L376.18,533.80 L379.94,534.24 L383.70,534.69 L387.46,535.14 L391.22,535.60 L394.98,536.06 L398.74,536.53 L402.50,537.00 L406.26,537.48 L410.02,537.96 L413.78,538.44 L417.54,538.93 L421.30,539.43 L425.06,539.93 L428.82,540.43 L432.58,540.94 L436.34,541.45" fill="none" stroke="#58a8f0" stroke-width="0.8"/><path d="M289.70,506.53 L293.46,506.37 L297.22,506.23 L300.98,506.09 L304.74,505.96 L308.50,505.84 L312.26,505.73 L316.02,505.63 L319.78,505.54 L323.54,505.46 L327.30,505.40 L331.06,505.34 L334.82,505.29 L338.58,505.25 L342.34,505.22 L346.10,505.20 L349.86,505.19 L353.62,505.19 L357.38,505.20 L361.14,505.22 L364.90,505.25 L368.66,505.29 L372.42,505.34 L376.18,505.40 L379.94,505.48 L383.70,505.56 L387.46,505.65 L391.22,505.75 L394.98,505.86 L398.74,505.98 L402.50,506.11 L406.26,506.25 L410.02,506.40 L413.78,506.56 L417.54,506.73 L421.30,506.91 L425.06,507.10 L428.82,507.30 L432.58,507.51 L436.34,507.73" fill="none" stroke="#b864ea" stroke-width="0.8"/><path d="M289.70,488.23 L293.46,488.22 L297.22,488.23 L300.98,488.26 L304.74,488.33 L308.50,488.42 L312.26,488.53 L316.02,488.67 L319.78,488.84 L323.54,489.03 L327.30,489.25 L331.06,489.50 L334.82,489.77 L338.58,490.07 L342.34,490.40 L346.10,490.75 L349.86,491.12 L353.62,491.53 L357.38,491.96 L361.14,492.41 L364.90,492.90 L368.66,493.41 L372.42,493.94 L376.18,494.50 L379.94,495.09 L383.70,495.70 L387.46,496.34 L391.22,497.01 L394.98,497.70 L398.74,498.42 L402.50,499.17 L406.26,499.94 L410.02,500.74 L413.78,501.56 L417.54,502.41 L421.30,503.29 L425.06,504.19 L428.82,505.12 L432.58,506.07 L436.34,507.05" fill="none" stroke="#4a4a4a" stroke-width="0.8"/><line x1="289.70" y1="517.23" x2="289.70" y2="532.53" stroke="#58a8f0" stroke-width="0.7"/><line x1="286.70" y1="517.23" x2="292.70" y2="517.23" stroke="#58a8f0" stroke-width="0.7"/><line x1="286.70" y1="532.53" x2="292.70" y2="532.53" stroke="#58a8f0" stroke-width="0.7"/><circle cx="289.70" cy="524.88" r="1.9" fill="#fff" fill-opacity="0.7" stroke="#58a8f0" stroke-width="0.7"/><line x1="338.58" y1="521.21" x2="338.58" y2="538.95" stroke="#58a8f0" stroke-width="0.7"/><line x1="335.58" y1="521.21" x2="341.58" y2="521.21" stroke="#58a8f0" stroke-width="0.7"/><line x1="335.58" y1="538.95" x2="341.58" y2="538.95" stroke="#58a8f0" stroke-width="0.7"/><circle cx="338.58" cy="530.08" r="1.9" fill="#fff" fill-opacity="0.7" stroke="#58a8f0" stroke-width="0.7"/><line x1="387.46" y1="532.53" x2="387.46" y2="538.65" stroke="#58a8f0" stroke-width="0.7"/><line x1="384.46" y1="532.53" x2="390.46" y2="532.53" stroke="#58a8f0" stroke-width="0.7"/><line x1="384.46" y1="538.65" x2="390.46" y2="538.65" stroke="#58a8f0" stroke-width="0.7"/><circle cx="387.46" cy="535.59" r="1.9" fill="#fff" fill-opacity="0.7" stroke="#58a8f0" stroke-width="0.7"/><line x1="436.34" y1="538.95" x2="436.34" y2="544.46" stroke="#58a8f0" stroke-width="0.7"/><line x1="433.34" y1="538.95" x2="439.34" y2="538.95" stroke="#58a8f0" stroke-width="0.7"/><line x1="433.34" y1="544.46" x2="439.34" y2="544.46" stroke="#58a8f0" stroke-width="0.7"/><circle cx="436.34" cy="541.71" r="1.9" fill="#fff" fill-opacity="0.7" stroke="#58a8f0" stroke-width="0.7"/><line x1="289.70" y1="501.93" x2="289.70" y2="511.11" stroke="#b864ea" stroke-width="0.7"/><line x1="286.70" y1="501.93" x2="292.70" y2="501.93" stroke="#b864ea" stroke-width="0.7"/><line x1="286.70" y1="511.11" x2="292.70" y2="511.11" stroke="#b864ea" stroke-width="0.7"/><circle cx="289.70" cy="506.52" r="1.9" fill="#fff" fill-opacity="0.7" stroke="#b864ea" stroke-width="0.7"/><line x1="338.58" y1="499.17" x2="338.58" y2="517.53" stroke="#b864ea" stroke-width="0.7"/><line x1="335.58" y1="499.17" x2="341.58" y2="499.17" stroke="#b864ea" stroke-width="0.7"/><line x1="335.58" y1="517.53" x2="341.58" y2="517.53" stroke="#b864ea" stroke-width="0.7"/><circle cx="338.58" cy="508.35" r="1.9" fill="#fff" fill-opacity="0.7" stroke="#b864ea" stroke-width="0.7"/><line x1="387.46" y1="494.58" x2="387.46" y2="510.50" stroke="#b864ea" stroke-width="0.7"/><line x1="384.46" y1="494.58" x2="390.46" y2="494.58" stroke="#b864ea" stroke-width="0.7"/><line x1="384.46" y1="510.50" x2="390.46" y2="510.50" stroke="#b864ea" stroke-width="0.7"/><circle cx="387.46" cy="502.54" r="1.9" fill="#fff" fill-opacity="0.7" stroke="#b864ea" stroke-width="0.7"/><line x1="436.34" y1="501.32" x2="436.34" y2="513.56" stroke="#b864ea" stroke-width="0.7"/><line x1="433.34" y1="501.32" x2="439.34" y2="501.32" stroke="#b864ea" stroke-width="0.7"/><line x1="433.34" y1="513.56" x2="439.34" y2="513.56" stroke="#b864ea" stroke-width="0.7"/><circle cx="436.34" cy="507.44" r="1.9" fill="#fff" fill-opacity="0.7" stroke="#b864ea" stroke-width="0.7"/><line x1="289.70" y1="479.28" x2="289.70" y2="496.42" stroke="#4a4a4a" stroke-width="0.7"/><line x1="286.70" y1="479.28" x2="292.70" y2="479.28" stroke="#4a4a4a" stroke-width="0.7"/><line x1="286.70" y1="496.42" x2="292.70" y2="496.42" stroke="#4a4a4a" stroke-width="0.7"/><rect x="287.90" y="486.05" width="3.6" height="3.6" fill="#fff" fill-opacity="0.7" stroke="#4a4a4a" stroke-width="0.7"/><line x1="338.58" y1="485.10" x2="338.58" y2="499.17" stroke="#4a4a4a" stroke-width="0.7"/><line x1="335.58" y1="485.10" x2="341.58" y2="485.10" stroke="#4a4a4a" stroke-width="0.7"/><line x1="335.58" y1="499.17" x2="341.58" y2="499.17" stroke="#4a4a4a" stroke-width="0.7"/><rect x="336.78" y="490.34" width="3.6" height="3.6" fill="#fff" fill-opacity="0.7" stroke="#4a4a4a" stroke-width="0.7"/><line x1="387.46" y1="486.63" x2="387.46" y2="501.32" stroke="#4a4a4a" stroke-width="0.7"/><line x1="384.46" y1="486.63" x2="390.46" y2="486.63" stroke="#4a4a4a" stroke-width="0.7"/><line x1="384.46" y1="501.32" x2="390.46" y2="501.32" stroke="#4a4a4a" stroke-width="0.7"/><rect x="385.66" y="492.17" width="3.6" height="3.6" fill="#fff" fill-opacity="0.7" stroke="#4a4a4a" stroke-width="0.7"/><line x1="436.34" y1="501.62" x2="436.34" y2="513.86" stroke="#4a4a4a" stroke-width="0.7"/><line x1="433.34" y1="501.62" x2="439.34" y2="501.62" stroke="#4a4a4a" stroke-width="0.7"/><line x1="433.34" y1="513.86" x2="439.34" y2="513.86" stroke="#4a4a4a" stroke-width="0.7"/><rect x="434.54" y="505.94" width="3.6" height="3.6" fill="#fff" fill-opacity="0.7" stroke="#4a4a4a" stroke-width="0.7"/><rect x="504.6" y="444.4" width="175.30" height="153.00" fill="none" stroke="#9a9a9a" stroke-width="0.9"/><line x1="504.6" y1="444.40" x2="510.60" y2="444.40" stroke="#9a9a9a" stroke-width="0.9"/><text x="497.40" y="448.40" font-size="12.4" fill="#222" text-anchor="end" >0.3</text><line x1="504.6" y1="495.40" x2="510.60" y2="495.40" stroke="#9a9a9a" stroke-width="0.9"/><text x="497.40" y="499.40" font-size="12.4" fill="#222" text-anchor="end" >0.2</text><line x1="504.6" y1="546.40" x2="510.60" y2="546.40" stroke="#9a9a9a" stroke-width="0.9"/><text x="497.40" y="550.40" font-size="12.4" fill="#222" text-anchor="end" >0.1</text><line x1="504.6" y1="597.40" x2="510.60" y2="597.40" stroke="#9a9a9a" stroke-width="0.9"/><text x="497.40" y="601.40" font-size="12.4" fill="#222" text-anchor="end" >0.0</text><line x1="504.6" y1="469.90" x2="508.10" y2="469.90" stroke="#9a9a9a" stroke-width="0.9"/><line x1="504.6" y1="520.90" x2="508.10" y2="520.90" stroke="#9a9a9a" stroke-width="0.9"/><line x1="504.6" y1="571.90" x2="508.10" y2="571.90" stroke="#9a9a9a" stroke-width="0.9"/><line x1="519.20" y1="597.4" x2="519.20" y2="591.60" stroke="#9a9a9a" stroke-width="0.9"/><text x="519.20" y="614.60" font-size="12.4" fill="#222" text-anchor="middle" >4</text><line x1="568.08" y1="597.4" x2="568.08" y2="591.60" stroke="#9a9a9a" stroke-width="0.9"/><text x="568.08" y="614.60" font-size="12.4" fill="#222" text-anchor="middle" >8</text><line x1="616.96" y1="597.4" x2="616.96" y2="591.60" stroke="#9a9a9a" stroke-width="0.9"/><text x="616.96" y="614.60" font-size="12.4" fill="#222" text-anchor="middle" >12</text><line x1="665.84" y1="597.4" x2="665.84" y2="591.60" stroke="#9a9a9a" stroke-width="0.9"/><text x="665.84" y="614.60" font-size="12.4" fill="#222" text-anchor="middle" >16</text><text x="592.25" y="635.60" font-size="12.5" fill="#222" text-anchor="middle" >TFR (mL/min)</text><text transform="translate(474.2,520.50) rotate(-90)" font-size="12.5" fill="#222" text-anchor="middle">PDI</text><text x="498.50" y="435.60" font-size="19.8" fill="#222" text-anchor="start" >H</text><text x="590.60" y="456.30" font-size="9.5" fill="#222" text-anchor="middle" >L:P Ratio</text><line x1="560.70" y1="463.60" x2="571.70" y2="463.60" stroke="#58a8f0" stroke-width="1"/><text x="574.10" y="466.90" font-size="9.7" fill="#333" text-anchor="start" >4</text><line x1="582.00" y1="463.60" x2="592.70" y2="463.60" stroke="#b864ea" stroke-width="1"/><text x="595.10" y="466.90" font-size="9.7" fill="#333" text-anchor="start" >6</text><line x1="603.00" y1="463.60" x2="613.80" y2="463.60" stroke="#4a4a4a" stroke-width="1"/><text x="616.20" y="466.90" font-size="9.7" fill="#333" text-anchor="start" >8</text><path d="M519.20,521.08 L522.96,522.31 L526.72,523.51 L530.48,524.68 L534.24,525.82 L538.00,526.93 L541.76,528.01 L545.52,529.05 L549.28,530.06 L553.04,531.04 L556.80,531.99 L560.56,532.91 L564.32,533.79 L568.08,534.64 L571.84,535.47 L575.60,536.26 L579.36,537.01 L583.12,537.74 L586.88,538.44 L590.64,539.10 L594.40,539.73 L598.16,540.33 L601.92,540.90 L605.68,541.44 L609.44,541.94 L613.20,542.41 L616.96,542.86 L620.72,543.27 L624.48,543.64 L628.24,543.99 L632.00,544.30 L635.76,544.59 L639.52,544.84 L643.28,545.06 L647.04,545.25 L650.80,545.40 L654.56,545.53 L658.32,545.62 L662.08,545.68 L665.84,545.71" fill="none" stroke="#58a8f0" stroke-width="0.8"/><path d="M519.20,503.51 L522.96,505.58 L526.72,507.56 L530.48,509.46 L534.24,511.27 L538.00,512.99 L541.76,514.62 L545.52,516.17 L549.28,517.62 L553.04,519.00 L556.80,520.28 L560.56,521.47 L564.32,522.58 L568.08,523.60 L571.84,524.54 L575.60,525.38 L579.36,526.14 L583.12,526.81 L586.88,527.39 L590.64,527.89 L594.40,528.30 L598.16,528.62 L601.92,528.85 L605.68,529.00 L609.44,529.05 L613.20,529.02 L616.96,528.91 L620.72,528.70 L624.48,528.41 L628.24,528.03 L632.00,527.56 L635.76,527.01 L639.52,526.37 L643.28,525.64 L647.04,524.82 L650.80,523.92 L654.56,522.92 L658.32,521.84 L662.08,520.68 L665.84,519.42" fill="none" stroke="#b864ea" stroke-width="0.8"/><path d="M519.20,495.67 L522.96,497.13 L526.72,498.55 L530.48,499.93 L534.24,501.26 L538.00,502.56 L541.76,503.81 L545.52,505.02 L549.28,506.20 L553.04,507.32 L556.80,508.41 L560.56,509.46 L564.32,510.46 L568.08,511.43 L571.84,512.35 L575.60,513.23 L579.36,514.07 L583.12,514.86 L586.88,515.62 L590.64,516.33 L594.40,517.01 L598.16,517.64 L601.92,518.23 L605.68,518.78 L609.44,519.28 L613.20,519.75 L616.96,520.17 L620.72,520.56 L624.48,520.90 L628.24,521.20 L632.00,521.45 L635.76,521.67 L639.52,521.84 L643.28,521.98 L647.04,522.07 L650.80,522.12 L654.56,522.13 L658.32,522.10 L662.08,522.02 L665.84,521.91" fill="none" stroke="#4a4a4a" stroke-width="0.8"/><line x1="519.20" y1="513.25" x2="519.20" y2="528.55" stroke="#58a8f0" stroke-width="0.7"/><line x1="516.20" y1="513.25" x2="522.20" y2="513.25" stroke="#58a8f0" stroke-width="0.7"/><line x1="516.20" y1="528.55" x2="522.20" y2="528.55" stroke="#58a8f0" stroke-width="0.7"/><circle cx="519.20" cy="520.90" r="1.9" fill="#fff" fill-opacity="0.7" stroke="#58a8f0" stroke-width="0.7"/><line x1="568.08" y1="529.06" x2="568.08" y2="542.32" stroke="#58a8f0" stroke-width="0.7"/><line x1="565.08" y1="529.06" x2="571.08" y2="529.06" stroke="#58a8f0" stroke-width="0.7"/><line x1="565.08" y1="542.32" x2="571.08" y2="542.32" stroke="#58a8f0" stroke-width="0.7"/><circle cx="568.08" cy="535.69" r="1.9" fill="#fff" fill-opacity="0.7" stroke="#58a8f0" stroke-width="0.7"/><line x1="616.96" y1="527.02" x2="616.96" y2="550.48" stroke="#58a8f0" stroke-width="0.7"/><line x1="613.96" y1="527.02" x2="619.96" y2="527.02" stroke="#58a8f0" stroke-width="0.7"/><line x1="613.96" y1="550.48" x2="619.96" y2="550.48" stroke="#58a8f0" stroke-width="0.7"/><circle cx="616.96" cy="538.75" r="1.9" fill="#fff" fill-opacity="0.7" stroke="#58a8f0" stroke-width="0.7"/><line x1="665.84" y1="540.48" x2="665.84" y2="551.70" stroke="#58a8f0" stroke-width="0.7"/><line x1="662.84" y1="540.48" x2="668.84" y2="540.48" stroke="#58a8f0" stroke-width="0.7"/><line x1="662.84" y1="551.70" x2="668.84" y2="551.70" stroke="#58a8f0" stroke-width="0.7"/><circle cx="665.84" cy="546.09" r="1.9" fill="#fff" fill-opacity="0.7" stroke="#58a8f0" stroke-width="0.7"/><line x1="519.20" y1="496.42" x2="519.20" y2="510.70" stroke="#b864ea" stroke-width="0.7"/><line x1="516.20" y1="496.42" x2="522.20" y2="496.42" stroke="#b864ea" stroke-width="0.7"/><line x1="516.20" y1="510.70" x2="522.20" y2="510.70" stroke="#b864ea" stroke-width="0.7"/><circle cx="519.20" cy="503.56" r="1.9" fill="#fff" fill-opacity="0.7" stroke="#b864ea" stroke-width="0.7"/><line x1="568.08" y1="512.74" x2="568.08" y2="527.02" stroke="#b864ea" stroke-width="0.7"/><line x1="565.08" y1="512.74" x2="571.08" y2="512.74" stroke="#b864ea" stroke-width="0.7"/><line x1="565.08" y1="527.02" x2="571.08" y2="527.02" stroke="#b864ea" stroke-width="0.7"/><circle cx="568.08" cy="519.88" r="1.9" fill="#fff" fill-opacity="0.7" stroke="#b864ea" stroke-width="0.7"/><line x1="616.96" y1="526.00" x2="616.96" y2="532.12" stroke="#b864ea" stroke-width="0.7"/><line x1="613.96" y1="526.00" x2="619.96" y2="526.00" stroke="#b864ea" stroke-width="0.7"/><line x1="613.96" y1="532.12" x2="619.96" y2="532.12" stroke="#b864ea" stroke-width="0.7"/><circle cx="616.96" cy="529.06" r="1.9" fill="#fff" fill-opacity="0.7" stroke="#b864ea" stroke-width="0.7"/><line x1="665.84" y1="509.17" x2="665.84" y2="527.53" stroke="#b864ea" stroke-width="0.7"/><line x1="662.84" y1="509.17" x2="668.84" y2="509.17" stroke="#b864ea" stroke-width="0.7"/><line x1="662.84" y1="527.53" x2="668.84" y2="527.53" stroke="#b864ea" stroke-width="0.7"/><circle cx="665.84" cy="518.35" r="1.9" fill="#fff" fill-opacity="0.7" stroke="#b864ea" stroke-width="0.7"/><line x1="519.20" y1="490.61" x2="519.20" y2="499.79" stroke="#4a4a4a" stroke-width="0.7"/><line x1="516.20" y1="490.61" x2="522.20" y2="490.61" stroke="#4a4a4a" stroke-width="0.7"/><line x1="516.20" y1="499.79" x2="522.20" y2="499.79" stroke="#4a4a4a" stroke-width="0.7"/><circle cx="519.20" cy="495.20" r="1.9" fill="#fff" fill-opacity="0.7" stroke="#4a4a4a" stroke-width="0.7"/><line x1="568.08" y1="500.19" x2="568.08" y2="524.67" stroke="#4a4a4a" stroke-width="0.7"/><line x1="565.08" y1="500.19" x2="571.08" y2="500.19" stroke="#4a4a4a" stroke-width="0.7"/><line x1="565.08" y1="524.67" x2="571.08" y2="524.67" stroke="#4a4a4a" stroke-width="0.7"/><circle cx="568.08" cy="512.43" r="1.9" fill="#fff" fill-opacity="0.7" stroke="#4a4a4a" stroke-width="0.7"/><line x1="616.96" y1="508.30" x2="616.96" y2="530.74" stroke="#4a4a4a" stroke-width="0.7"/><line x1="613.96" y1="508.30" x2="619.96" y2="508.30" stroke="#4a4a4a" stroke-width="0.7"/><line x1="613.96" y1="530.74" x2="619.96" y2="530.74" stroke="#4a4a4a" stroke-width="0.7"/><circle cx="616.96" cy="519.52" r="1.9" fill="#fff" fill-opacity="0.7" stroke="#4a4a4a" stroke-width="0.7"/><line x1="665.84" y1="510.44" x2="665.84" y2="533.90" stroke="#4a4a4a" stroke-width="0.7"/><line x1="662.84" y1="510.44" x2="668.84" y2="510.44" stroke="#4a4a4a" stroke-width="0.7"/><line x1="662.84" y1="533.90" x2="668.84" y2="533.90" stroke="#4a4a4a" stroke-width="0.7"/><circle cx="665.84" cy="522.17" r="1.9" fill="#fff" fill-opacity="0.7" stroke="#4a4a4a" stroke-width="0.7"/><rect x="44.6" y="653.9" width="175.30" height="153.10" fill="none" stroke="#9a9a9a" stroke-width="0.9"/><line x1="44.6" y1="653.90" x2="50.60" y2="653.90" stroke="#9a9a9a" stroke-width="0.9"/><text x="37.40" y="657.90" font-size="12.4" fill="#222" text-anchor="end" >150</text><line x1="44.6" y1="684.52" x2="50.60" y2="684.52" stroke="#9a9a9a" stroke-width="0.9"/><text x="37.40" y="688.52" font-size="12.4" fill="#222" text-anchor="end" >125</text><line x1="44.6" y1="715.14" x2="50.60" y2="715.14" stroke="#9a9a9a" stroke-width="0.9"/><text x="37.40" y="719.14" font-size="12.4" fill="#222" text-anchor="end" >100</text><line x1="44.6" y1="745.76" x2="50.60" y2="745.76" stroke="#9a9a9a" stroke-width="0.9"/><text x="37.40" y="749.76" font-size="12.4" fill="#222" text-anchor="end" >75</text><line x1="44.6" y1="776.38" x2="50.60" y2="776.38" stroke="#9a9a9a" stroke-width="0.9"/><text x="37.40" y="780.38" font-size="12.4" fill="#222" text-anchor="end" >50</text><line x1="44.6" y1="807.00" x2="50.60" y2="807.00" stroke="#9a9a9a" stroke-width="0.9"/><text x="37.40" y="811.00" font-size="12.4" fill="#222" text-anchor="end" >25</text><line x1="44.6" y1="669.21" x2="48.10" y2="669.21" stroke="#9a9a9a" stroke-width="0.9"/><line x1="44.6" y1="699.83" x2="48.10" y2="699.83" stroke="#9a9a9a" stroke-width="0.9"/><line x1="44.6" y1="730.45" x2="48.10" y2="730.45" stroke="#9a9a9a" stroke-width="0.9"/><line x1="44.6" y1="761.07" x2="48.10" y2="761.07" stroke="#9a9a9a" stroke-width="0.9"/><line x1="44.6" y1="791.69" x2="48.10" y2="791.69" stroke="#9a9a9a" stroke-width="0.9"/><line x1="64.90" y1="807.0" x2="64.90" y2="801.20" stroke="#9a9a9a" stroke-width="0.9"/><text x="64.90" y="824.20" font-size="12.4" fill="#222" text-anchor="middle" >4.0</text><line x1="132.40" y1="807.0" x2="132.40" y2="801.20" stroke="#9a9a9a" stroke-width="0.9"/><text x="132.40" y="824.20" font-size="12.4" fill="#222" text-anchor="middle" >6.0</text><line x1="199.90" y1="807.0" x2="199.90" y2="801.20" stroke="#9a9a9a" stroke-width="0.9"/><text x="199.90" y="824.20" font-size="12.4" fill="#222" text-anchor="middle" >8.0</text><text x="132.25" y="845.00" font-size="12.5" fill="#222" text-anchor="middle" >L:P Ratio</text><text transform="translate(10.5,730.05) rotate(-90)" font-size="12.5" fill="#222" text-anchor="middle">Size (nm)</text><text x="41.70" y="644.80" font-size="19.8" fill="#222" text-anchor="start" >I</text><text x="131.10" y="665.80" font-size="9.5" fill="#222" text-anchor="middle" >TFR (mL/min)</text><line x1="85.10" y1="673.10" x2="95.30" y2="673.10" stroke="#9ad89a" stroke-width="1"/><text x="97.90" y="676.40" font-size="9.7" fill="#333" text-anchor="start" >4</text><line x1="106.00" y1="673.10" x2="116.20" y2="673.10" stroke="#a4c6f0" stroke-width="1"/><text x="119.10" y="676.40" font-size="9.7" fill="#333" text-anchor="start" >8</text><line x1="127.00" y1="673.10" x2="137.20" y2="673.10" stroke="#d8a4f0" stroke-width="1"/><text x="139.60" y="676.40" font-size="9.7" fill="#333" text-anchor="start" >12</text><line x1="153.70" y1="673.10" x2="163.90" y2="673.10" stroke="#a8a8a8" stroke-width="1"/><text x="165.90" y="676.40" font-size="9.7" fill="#333" text-anchor="start" >16</text><path d="M64.90,711.42 L68.36,711.28 L71.82,711.16 L75.28,711.07 L78.75,710.99 L82.21,710.94 L85.67,710.91 L89.13,710.90 L92.59,710.91 L96.05,710.95 L99.52,711.00 L102.98,711.08 L106.44,711.18 L109.90,711.30 L113.36,711.44 L116.82,711.60 L120.28,711.78 L123.75,711.99 L127.21,712.21 L130.67,712.46 L134.13,712.73 L137.59,713.02 L141.05,713.33 L144.52,713.66 L147.98,714.02 L151.44,714.39 L154.90,714.79 L158.36,715.21 L161.82,715.65 L165.28,716.11 L168.75,716.59 L172.21,717.09 L175.67,717.62 L179.13,718.16 L182.59,718.73 L186.05,719.32 L189.52,719.93 L192.98,720.56 L196.44,721.22 L199.90,721.89" fill="none" stroke="#66c466" stroke-width="0.8"/><path d="M64.90,735.61 L68.36,737.24 L71.82,738.82 L75.28,740.35 L78.75,741.82 L82.21,743.24 L85.67,744.60 L89.13,745.91 L92.59,747.16 L96.05,748.36 L99.52,749.50 L102.98,750.59 L106.44,751.63 L109.90,752.61 L113.36,753.54 L116.82,754.41 L120.28,755.23 L123.75,756.00 L127.21,756.71 L130.67,757.36 L134.13,757.96 L137.59,758.51 L141.05,759.00 L144.52,759.44 L147.98,759.83 L151.44,760.16 L154.90,760.43 L158.36,760.65 L161.82,760.82 L165.28,760.93 L168.75,760.99 L172.21,760.99 L175.67,760.94 L179.13,760.84 L182.59,760.68 L186.05,760.46 L189.52,760.19 L192.98,759.87 L196.44,759.49 L199.90,759.06" fill="none" stroke="#7cb8f0" stroke-width="0.8"/><path d="M64.90,759.61 L68.36,760.62 L71.82,761.58 L75.28,762.51 L78.75,763.40 L82.21,764.26 L85.67,765.07 L89.13,765.85 L92.59,766.59 L96.05,767.29 L99.52,767.96 L102.98,768.59 L106.44,769.17 L109.90,769.73 L113.36,770.24 L116.82,770.72 L120.28,771.16 L123.75,771.56 L127.21,771.92 L130.67,772.25 L134.13,772.53 L137.59,772.78 L141.05,773.00 L144.52,773.17 L147.98,773.31 L151.44,773.41 L154.90,773.47 L158.36,773.49 L161.82,773.48 L165.28,773.43 L168.75,773.34 L172.21,773.21 L175.67,773.04 L179.13,772.84 L182.59,772.60 L186.05,772.32 L189.52,772.01 L192.98,771.65 L196.44,771.26 L199.90,770.83" fill="none" stroke="#c482ec" stroke-width="0.8"/><path d="M64.90,761.70 L68.36,762.90 L71.82,764.06 L75.28,765.19 L78.75,766.27 L82.21,767.32 L85.67,768.33 L89.13,769.30 L92.59,770.23 L96.05,771.12 L99.52,771.97 L102.98,772.78 L106.44,773.56 L109.90,774.29 L113.36,774.99 L116.82,775.65 L120.28,776.26 L123.75,776.84 L127.21,777.39 L130.67,777.89 L134.13,778.35 L137.59,778.77 L141.05,779.16 L144.52,779.51 L147.98,779.81 L151.44,780.08 L154.90,780.31 L158.36,780.50 L161.82,780.66 L165.28,780.77 L168.75,780.84 L172.21,780.88 L175.67,780.88 L179.13,780.83 L182.59,780.75 L186.05,780.63 L189.52,780.47 L192.98,780.28 L196.44,780.04 L199.90,779.76" fill="none" stroke="#686868" stroke-width="0.8"/><line x1="64.90" y1="707.18" x2="64.90" y2="716.00" stroke="#66c466" stroke-width="0.7"/><line x1="61.90" y1="707.18" x2="67.90" y2="707.18" stroke="#66c466" stroke-width="0.7"/><line x1="61.90" y1="716.00" x2="67.90" y2="716.00" stroke="#66c466" stroke-width="0.7"/><circle cx="64.90" cy="711.59" r="1.9" fill="#fff" fill-opacity="0.7" stroke="#66c466" stroke-width="0.7"/><line x1="132.40" y1="709.51" x2="132.40" y2="715.14" stroke="#66c466" stroke-width="0.7"/><line x1="129.40" y1="709.51" x2="135.40" y2="709.51" stroke="#66c466" stroke-width="0.7"/><line x1="129.40" y1="715.14" x2="135.40" y2="715.14" stroke="#66c466" stroke-width="0.7"/><circle cx="132.40" cy="712.32" r="1.9" fill="#fff" fill-opacity="0.7" stroke="#66c466" stroke-width="0.7"/><line x1="199.90" y1="716.00" x2="199.90" y2="728.00" stroke="#66c466" stroke-width="0.7"/><line x1="196.90" y1="716.00" x2="202.90" y2="716.00" stroke="#66c466" stroke-width="0.7"/><line x1="196.90" y1="728.00" x2="202.90" y2="728.00" stroke="#66c466" stroke-width="0.7"/><circle cx="199.90" cy="722.00" r="1.9" fill="#fff" fill-opacity="0.7" stroke="#66c466" stroke-width="0.7"/><line x1="64.90" y1="727.76" x2="64.90" y2="743.43" stroke="#7cb8f0" stroke-width="0.7"/><line x1="61.90" y1="727.76" x2="67.90" y2="727.76" stroke="#7cb8f0" stroke-width="0.7"/><line x1="61.90" y1="743.43" x2="67.90" y2="743.43" stroke="#7cb8f0" stroke-width="0.7"/><rect x="63.10" y="733.79" width="3.6" height="3.6" fill="#fff" fill-opacity="0.7" stroke="#7cb8f0" stroke-width="0.7"/><line x1="132.40" y1="756.54" x2="132.40" y2="758.99" stroke="#7cb8f0" stroke-width="0.7"/><line x1="129.40" y1="756.54" x2="135.40" y2="756.54" stroke="#7cb8f0" stroke-width="0.7"/><line x1="129.40" y1="758.99" x2="135.40" y2="758.99" stroke="#7cb8f0" stroke-width="0.7"/><rect x="130.60" y="755.96" width="3.6" height="3.6" fill="#fff" fill-opacity="0.7" stroke="#7cb8f0" stroke-width="0.7"/><line x1="199.90" y1="754.33" x2="199.90" y2="763.40" stroke="#7cb8f0" stroke-width="0.7"/><line x1="196.90" y1="754.33" x2="202.90" y2="754.33" stroke="#7cb8f0" stroke-width="0.7"/><line x1="196.90" y1="763.40" x2="202.90" y2="763.40" stroke="#7cb8f0" stroke-width="0.7"/><rect x="198.10" y="757.07" width="3.6" height="3.6" fill="#fff" fill-opacity="0.7" stroke="#7cb8f0" stroke-width="0.7"/><line x1="64.90" y1="757.52" x2="64.90" y2="761.68" stroke="#c482ec" stroke-width="0.7"/><line x1="61.90" y1="757.52" x2="67.90" y2="757.52" stroke="#c482ec" stroke-width="0.7"/><line x1="61.90" y1="761.68" x2="67.90" y2="761.68" stroke="#c482ec" stroke-width="0.7"/><rect x="63.10" y="757.80" width="3.6" height="3.6" fill="#fff" fill-opacity="0.7" stroke="#c482ec" stroke-width="0.7"/><line x1="132.40" y1="770.87" x2="132.40" y2="773.32" stroke="#c482ec" stroke-width="0.7"/><line x1="129.40" y1="770.87" x2="135.40" y2="770.87" stroke="#c482ec" stroke-width="0.7"/><line x1="129.40" y1="773.32" x2="135.40" y2="773.32" stroke="#c482ec" stroke-width="0.7"/><rect x="130.60" y="770.29" width="3.6" height="3.6" fill="#fff" fill-opacity="0.7" stroke="#c482ec" stroke-width="0.7"/><line x1="199.90" y1="766.58" x2="199.90" y2="775.16" stroke="#c482ec" stroke-width="0.7"/><line x1="196.90" y1="766.58" x2="202.90" y2="766.58" stroke="#c482ec" stroke-width="0.7"/><line x1="196.90" y1="775.16" x2="202.90" y2="775.16" stroke="#c482ec" stroke-width="0.7"/><rect x="198.10" y="769.07" width="3.6" height="3.6" fill="#fff" fill-opacity="0.7" stroke="#c482ec" stroke-width="0.7"/><line x1="64.90" y1="759.85" x2="64.90" y2="763.52" stroke="#686868" stroke-width="0.7"/><line x1="61.90" y1="759.85" x2="67.90" y2="759.85" stroke="#686868" stroke-width="0.7"/><line x1="61.90" y1="763.52" x2="67.90" y2="763.52" stroke="#686868" stroke-width="0.7"/><rect x="63.10" y="759.88" width="3.6" height="3.6" fill="#fff" fill-opacity="0.7" stroke="#686868" stroke-width="0.7"/><line x1="132.40" y1="775.89" x2="132.40" y2="779.56" stroke="#686868" stroke-width="0.7"/><line x1="129.40" y1="775.89" x2="135.40" y2="775.89" stroke="#686868" stroke-width="0.7"/><line x1="129.40" y1="779.56" x2="135.40" y2="779.56" stroke="#686868" stroke-width="0.7"/><rect x="130.60" y="775.93" width="3.6" height="3.6" fill="#fff" fill-opacity="0.7" stroke="#686868" stroke-width="0.7"/><line x1="199.90" y1="776.14" x2="199.90" y2="783.48" stroke="#686868" stroke-width="0.7"/><line x1="196.90" y1="776.14" x2="202.90" y2="776.14" stroke="#686868" stroke-width="0.7"/><line x1="196.90" y1="783.48" x2="202.90" y2="783.48" stroke="#686868" stroke-width="0.7"/><rect x="198.10" y="778.01" width="3.6" height="3.6" fill="#fff" fill-opacity="0.7" stroke="#686868" stroke-width="0.7"/><rect x="275.1" y="653.9" width="175.30" height="153.10" fill="none" stroke="#9a9a9a" stroke-width="0.9"/><line x1="275.1" y1="653.90" x2="281.10" y2="653.90" stroke="#9a9a9a" stroke-width="0.9"/><text x="267.90" y="657.90" font-size="12.4" fill="#222" text-anchor="end" >50</text><line x1="275.1" y1="684.52" x2="281.10" y2="684.52" stroke="#9a9a9a" stroke-width="0.9"/><text x="267.90" y="688.52" font-size="12.4" fill="#222" text-anchor="end" >40</text><line x1="275.1" y1="715.14" x2="281.10" y2="715.14" stroke="#9a9a9a" stroke-width="0.9"/><text x="267.90" y="719.14" font-size="12.4" fill="#222" text-anchor="end" >30</text><line x1="275.1" y1="745.76" x2="281.10" y2="745.76" stroke="#9a9a9a" stroke-width="0.9"/><text x="267.90" y="749.76" font-size="12.4" fill="#222" text-anchor="end" >20</text><line x1="275.1" y1="776.38" x2="281.10" y2="776.38" stroke="#9a9a9a" stroke-width="0.9"/><text x="267.90" y="780.38" font-size="12.4" fill="#222" text-anchor="end" >10</text><line x1="275.1" y1="807.00" x2="281.10" y2="807.00" stroke="#9a9a9a" stroke-width="0.9"/><text x="267.90" y="811.00" font-size="12.4" fill="#222" text-anchor="end" >0</text><line x1="275.1" y1="669.21" x2="278.60" y2="669.21" stroke="#9a9a9a" stroke-width="0.9"/><line x1="275.1" y1="699.83" x2="278.60" y2="699.83" stroke="#9a9a9a" stroke-width="0.9"/><line x1="275.1" y1="730.45" x2="278.60" y2="730.45" stroke="#9a9a9a" stroke-width="0.9"/><line x1="275.1" y1="761.07" x2="278.60" y2="761.07" stroke="#9a9a9a" stroke-width="0.9"/><line x1="275.1" y1="791.69" x2="278.60" y2="791.69" stroke="#9a9a9a" stroke-width="0.9"/><line x1="295.40" y1="807.0" x2="295.40" y2="801.20" stroke="#9a9a9a" stroke-width="0.9"/><text x="295.40" y="824.20" font-size="12.4" fill="#222" text-anchor="middle" >4.0</text><line x1="362.90" y1="807.0" x2="362.90" y2="801.20" stroke="#9a9a9a" stroke-width="0.9"/><text x="362.90" y="824.20" font-size="12.4" fill="#222" text-anchor="middle" >6.0</text><line x1="430.40" y1="807.0" x2="430.40" y2="801.20" stroke="#9a9a9a" stroke-width="0.9"/><text x="430.40" y="824.20" font-size="12.4" fill="#222" text-anchor="middle" >8.0</text><text x="362.75" y="845.00" font-size="12.5" fill="#222" text-anchor="middle" >L:P Ratio</text><text transform="translate(248.0,730.05) rotate(-90)" font-size="12.5" fill="#222" text-anchor="middle">Zeta potential (mV)</text><text x="270.30" y="644.80" font-size="19.8" fill="#222" text-anchor="start" >J</text><text x="361.60" y="665.80" font-size="9.5" fill="#222" text-anchor="middle" >TFR (mL/min)</text><line x1="315.60" y1="673.10" x2="325.80" y2="673.10" stroke="#9ad89a" stroke-width="1"/><text x="328.40" y="676.40" font-size="9.7" fill="#333" text-anchor="start" >4</text><line x1="336.50" y1="673.10" x2="346.70" y2="673.10" stroke="#a4c6f0" stroke-width="1"/><text x="349.60" y="676.40" font-size="9.7" fill="#333" text-anchor="start" >8</text><line x1="357.50" y1="673.10" x2="367.70" y2="673.10" stroke="#d8a4f0" stroke-width="1"/><text x="370.10" y="676.40" font-size="9.7" fill="#333" text-anchor="start" >12</text><line x1="384.20" y1="673.10" x2="394.40" y2="673.10" stroke="#a8a8a8" stroke-width="1"/><text x="396.40" y="676.40" font-size="9.7" fill="#333" text-anchor="start" >16</text><path d="M295.40,734.12 L298.86,733.15 L302.32,732.18 L305.78,731.21 L309.25,730.24 L312.71,729.28 L316.17,728.31 L319.63,727.35 L323.09,726.39 L326.55,725.43 L330.02,724.47 L333.48,723.51 L336.94,722.56 L340.40,721.60 L343.86,720.65 L347.32,719.70 L350.78,718.75 L354.25,717.81 L357.71,716.86 L361.17,715.92 L364.63,714.98 L368.09,714.03 L371.55,713.10 L375.02,712.16 L378.48,711.22 L381.94,710.29 L385.40,709.36 L388.86,708.43 L392.32,707.50 L395.78,706.57 L399.25,705.64 L402.71,704.72 L406.17,703.80 L409.63,702.87 L413.09,701.95 L416.55,701.04 L420.02,700.12 L423.48,699.21 L426.94,698.29 L430.40,697.38" fill="none" stroke="#66c466" stroke-width="0.8"/><path d="M295.40,739.33 L298.86,738.09 L302.32,736.86 L305.78,735.65 L309.25,734.45 L312.71,733.28 L316.17,732.11 L319.63,730.97 L323.09,729.84 L326.55,728.73 L330.02,727.63 L333.48,726.55 L336.94,725.48 L340.40,724.43 L343.86,723.40 L347.32,722.39 L350.78,721.39 L354.25,720.40 L357.71,719.44 L361.17,718.49 L364.63,717.55 L368.09,716.64 L371.55,715.73 L375.02,714.85 L378.48,713.98 L381.94,713.13 L385.40,712.29 L388.86,711.47 L392.32,710.66 L395.78,709.88 L399.25,709.10 L402.71,708.35 L406.17,707.61 L409.63,706.89 L413.09,706.18 L416.55,705.49 L420.02,704.82 L423.48,704.16 L426.94,703.52 L430.40,702.89" fill="none" stroke="#7cb8f0" stroke-width="0.8"/><path d="M295.40,742.73 L298.86,740.73 L302.32,738.79 L305.78,736.90 L309.25,735.05 L312.71,733.26 L316.17,731.52 L319.63,729.83 L323.09,728.19 L326.55,726.61 L330.02,725.07 L333.48,723.58 L336.94,722.15 L340.40,720.76 L343.86,719.43 L347.32,718.14 L350.78,716.91 L354.25,715.73 L357.71,714.60 L361.17,713.52 L364.63,712.49 L368.09,711.51 L371.55,710.58 L375.02,709.71 L378.48,708.88 L381.94,708.10 L385.40,707.38 L388.86,706.71 L392.32,706.08 L395.78,705.51 L399.25,704.99 L402.71,704.52 L406.17,704.10 L409.63,703.73 L413.09,703.41 L416.55,703.15 L420.02,702.93 L423.48,702.76 L426.94,702.65 L430.40,702.59" fill="none" stroke="#c482ec" stroke-width="0.8"/><path d="M295.40,749.08 L298.86,746.79 L302.32,744.58 L305.78,742.44 L309.25,740.37 L312.71,738.39 L316.17,736.48 L319.63,734.65 L323.09,732.90 L326.55,731.22 L330.02,729.62 L333.48,728.10 L336.94,726.66 L340.40,725.29 L343.86,724.00 L347.32,722.78 L350.78,721.65 L354.25,720.59 L357.71,719.61 L361.17,718.70 L364.63,717.87 L368.09,717.12 L371.55,716.45 L375.02,715.85 L378.48,715.33 L381.94,714.89 L385.40,714.53 L388.86,714.24 L392.32,714.03 L395.78,713.90 L399.25,713.84 L402.71,713.86 L406.17,713.96 L409.63,714.13 L413.09,714.38 L416.55,714.71 L420.02,715.12 L423.48,715.60 L426.94,716.16 L430.40,716.80" fill="none" stroke="#686868" stroke-width="0.8"/><line x1="295.40" y1="726.78" x2="295.40" y2="741.47" stroke="#66c466" stroke-width="0.7"/><line x1="292.40" y1="726.78" x2="298.40" y2="726.78" stroke="#66c466" stroke-width="0.7"/><line x1="292.40" y1="741.47" x2="298.40" y2="741.47" stroke="#66c466" stroke-width="0.7"/><circle cx="295.40" cy="734.12" r="1.9" fill="#fff" fill-opacity="0.7" stroke="#66c466" stroke-width="0.7"/><line x1="362.90" y1="709.93" x2="362.90" y2="723.41" stroke="#66c466" stroke-width="0.7"/><line x1="359.90" y1="709.93" x2="365.90" y2="709.93" stroke="#66c466" stroke-width="0.7"/><line x1="359.90" y1="723.41" x2="365.90" y2="723.41" stroke="#66c466" stroke-width="0.7"/><circle cx="362.90" cy="716.67" r="1.9" fill="#fff" fill-opacity="0.7" stroke="#66c466" stroke-width="0.7"/><line x1="430.40" y1="689.73" x2="430.40" y2="705.04" stroke="#66c466" stroke-width="0.7"/><line x1="427.40" y1="689.73" x2="433.40" y2="689.73" stroke="#66c466" stroke-width="0.7"/><line x1="427.40" y1="705.04" x2="433.40" y2="705.04" stroke="#66c466" stroke-width="0.7"/><circle cx="430.40" cy="697.38" r="1.9" fill="#fff" fill-opacity="0.7" stroke="#66c466" stroke-width="0.7"/><line x1="295.40" y1="732.59" x2="295.40" y2="746.68" stroke="#7cb8f0" stroke-width="0.7"/><line x1="292.40" y1="732.59" x2="298.40" y2="732.59" stroke="#7cb8f0" stroke-width="0.7"/><line x1="292.40" y1="746.68" x2="298.40" y2="746.68" stroke="#7cb8f0" stroke-width="0.7"/><circle cx="295.40" cy="739.64" r="1.9" fill="#fff" fill-opacity="0.7" stroke="#7cb8f0" stroke-width="0.7"/><line x1="362.90" y1="710.24" x2="362.90" y2="725.55" stroke="#7cb8f0" stroke-width="0.7"/><line x1="359.90" y1="710.24" x2="365.90" y2="710.24" stroke="#7cb8f0" stroke-width="0.7"/><line x1="359.90" y1="725.55" x2="365.90" y2="725.55" stroke="#7cb8f0" stroke-width="0.7"/><circle cx="362.90" cy="717.90" r="1.9" fill="#fff" fill-opacity="0.7" stroke="#7cb8f0" stroke-width="0.7"/><line x1="430.40" y1="695.85" x2="430.40" y2="709.32" stroke="#7cb8f0" stroke-width="0.7"/><line x1="427.40" y1="695.85" x2="433.40" y2="695.85" stroke="#7cb8f0" stroke-width="0.7"/><line x1="427.40" y1="709.32" x2="433.40" y2="709.32" stroke="#7cb8f0" stroke-width="0.7"/><circle cx="430.40" cy="702.59" r="1.9" fill="#fff" fill-opacity="0.7" stroke="#7cb8f0" stroke-width="0.7"/><line x1="295.40" y1="740.55" x2="295.40" y2="748.52" stroke="#c482ec" stroke-width="0.7"/><line x1="292.40" y1="740.55" x2="298.40" y2="740.55" stroke="#c482ec" stroke-width="0.7"/><line x1="292.40" y1="748.52" x2="298.40" y2="748.52" stroke="#c482ec" stroke-width="0.7"/><circle cx="295.40" cy="744.54" r="1.9" fill="#fff" fill-opacity="0.7" stroke="#c482ec" stroke-width="0.7"/><line x1="362.90" y1="704.12" x2="362.90" y2="720.65" stroke="#c482ec" stroke-width="0.7"/><line x1="359.90" y1="704.12" x2="365.90" y2="704.12" stroke="#c482ec" stroke-width="0.7"/><line x1="359.90" y1="720.65" x2="365.90" y2="720.65" stroke="#c482ec" stroke-width="0.7"/><circle cx="362.90" cy="712.38" r="1.9" fill="#fff" fill-opacity="0.7" stroke="#c482ec" stroke-width="0.7"/><line x1="430.40" y1="695.85" x2="430.40" y2="711.16" stroke="#c482ec" stroke-width="0.7"/><line x1="427.40" y1="695.85" x2="433.40" y2="695.85" stroke="#c482ec" stroke-width="0.7"/><line x1="427.40" y1="711.16" x2="433.40" y2="711.16" stroke="#c482ec" stroke-width="0.7"/><circle cx="430.40" cy="703.50" r="1.9" fill="#fff" fill-opacity="0.7" stroke="#c482ec" stroke-width="0.7"/><line x1="295.40" y1="747.90" x2="295.40" y2="754.64" stroke="#686868" stroke-width="0.7"/><line x1="292.40" y1="747.90" x2="298.40" y2="747.90" stroke="#686868" stroke-width="0.7"/><line x1="292.40" y1="754.64" x2="298.40" y2="754.64" stroke="#686868" stroke-width="0.7"/><circle cx="295.40" cy="751.27" r="1.9" fill="#fff" fill-opacity="0.7" stroke="#686868" stroke-width="0.7"/><line x1="362.90" y1="710.85" x2="362.90" y2="724.33" stroke="#686868" stroke-width="0.7"/><line x1="359.90" y1="710.85" x2="365.90" y2="710.85" stroke="#686868" stroke-width="0.7"/><line x1="359.90" y1="724.33" x2="365.90" y2="724.33" stroke="#686868" stroke-width="0.7"/><circle cx="362.90" cy="717.59" r="1.9" fill="#fff" fill-opacity="0.7" stroke="#686868" stroke-width="0.7"/><line x1="430.40" y1="711.47" x2="430.40" y2="723.71" stroke="#686868" stroke-width="0.7"/><line x1="427.40" y1="711.47" x2="433.40" y2="711.47" stroke="#686868" stroke-width="0.7"/><line x1="427.40" y1="723.71" x2="433.40" y2="723.71" stroke="#686868" stroke-width="0.7"/><circle cx="430.40" cy="717.59" r="1.9" fill="#fff" fill-opacity="0.7" stroke="#686868" stroke-width="0.7"/><rect x="504.6" y="653.9" width="175.30" height="153.10" fill="none" stroke="#9a9a9a" stroke-width="0.9"/><line x1="504.6" y1="653.90" x2="510.60" y2="653.90" stroke="#9a9a9a" stroke-width="0.9"/><text x="497.40" y="657.90" font-size="12.4" fill="#222" text-anchor="end" >0.3</text><line x1="504.6" y1="704.93" x2="510.60" y2="704.93" stroke="#9a9a9a" stroke-width="0.9"/><text x="497.40" y="708.93" font-size="12.4" fill="#222" text-anchor="end" >0.2</text><line x1="504.6" y1="755.97" x2="510.60" y2="755.97" stroke="#9a9a9a" stroke-width="0.9"/><text x="497.40" y="759.97" font-size="12.4" fill="#222" text-anchor="end" >0.1</text><line x1="504.6" y1="807.00" x2="510.60" y2="807.00" stroke="#9a9a9a" stroke-width="0.9"/><text x="497.40" y="811.00" font-size="12.4" fill="#222" text-anchor="end" >0.0</text><line x1="504.6" y1="679.42" x2="508.10" y2="679.42" stroke="#9a9a9a" stroke-width="0.9"/><line x1="504.6" y1="730.45" x2="508.10" y2="730.45" stroke="#9a9a9a" stroke-width="0.9"/><line x1="504.6" y1="781.48" x2="508.10" y2="781.48" stroke="#9a9a9a" stroke-width="0.9"/><line x1="524.90" y1="807.0" x2="524.90" y2="801.20" stroke="#9a9a9a" stroke-width="0.9"/><text x="524.90" y="824.20" font-size="12.4" fill="#222" text-anchor="middle" >4.0</text><line x1="592.40" y1="807.0" x2="592.40" y2="801.20" stroke="#9a9a9a" stroke-width="0.9"/><text x="592.40" y="824.20" font-size="12.4" fill="#222" text-anchor="middle" >6.0</text><line x1="659.90" y1="807.0" x2="659.90" y2="801.20" stroke="#9a9a9a" stroke-width="0.9"/><text x="659.90" y="824.20" font-size="12.4" fill="#222" text-anchor="middle" >8.0</text><text x="592.25" y="845.00" font-size="12.5" fill="#222" text-anchor="middle" >L:P Ratio</text><text transform="translate(474.2,730.05) rotate(-90)" font-size="12.5" fill="#222" text-anchor="middle">PDI</text><text x="498.10" y="644.80" font-size="19.8" fill="#222" text-anchor="start" >K</text><text x="591.10" y="665.80" font-size="9.5" fill="#222" text-anchor="middle" >TFR (mL/min)</text><line x1="545.10" y1="673.10" x2="555.30" y2="673.10" stroke="#9ad89a" stroke-width="1"/><text x="557.90" y="676.40" font-size="9.7" fill="#333" text-anchor="start" >4</text><line x1="566.00" y1="673.10" x2="576.20" y2="673.10" stroke="#a4c6f0" stroke-width="1"/><text x="579.10" y="676.40" font-size="9.7" fill="#333" text-anchor="start" >8</text><line x1="587.00" y1="673.10" x2="597.20" y2="673.10" stroke="#d8a4f0" stroke-width="1"/><text x="599.60" y="676.40" font-size="9.7" fill="#333" text-anchor="start" >12</text><line x1="613.70" y1="673.10" x2="623.90" y2="673.10" stroke="#a8a8a8" stroke-width="1"/><text x="625.90" y="676.40" font-size="9.7" fill="#333" text-anchor="start" >16</text><path d="M524.90,729.74 L528.36,728.68 L531.82,727.64 L535.28,726.63 L538.75,725.63 L542.21,724.66 L545.67,723.71 L549.13,722.77 L552.59,721.86 L556.05,720.97 L559.52,720.10 L562.98,719.25 L566.44,718.42 L569.90,717.61 L573.36,716.82 L576.82,716.05 L580.28,715.30 L583.75,714.57 L587.21,713.87 L590.67,713.18 L594.13,712.51 L597.59,711.87 L601.05,711.24 L604.52,710.64 L607.98,710.05 L611.44,709.49 L614.90,708.95 L618.36,708.43 L621.82,707.92 L625.28,707.44 L628.75,706.98 L632.21,706.54 L635.67,706.12 L639.13,705.72 L642.59,705.34 L646.05,704.99 L649.52,704.65 L652.98,704.33 L656.44,704.04 L659.90,703.76" fill="none" stroke="#66c466" stroke-width="0.8"/><path d="M524.90,744.54 L528.36,743.47 L531.82,742.44 L535.28,741.43 L538.75,740.44 L542.21,739.48 L545.67,738.55 L549.13,737.64 L552.59,736.75 L556.05,735.89 L559.52,735.06 L562.98,734.25 L566.44,733.47 L569.90,732.71 L573.36,731.98 L576.82,731.27 L580.28,730.59 L583.75,729.94 L587.21,729.31 L590.67,728.70 L594.13,728.12 L597.59,727.57 L601.05,727.04 L604.52,726.54 L607.98,726.06 L611.44,725.60 L614.90,725.18 L618.36,724.77 L621.82,724.40 L625.28,724.05 L628.75,723.72 L632.21,723.42 L635.67,723.14 L639.13,722.89 L642.59,722.67 L646.05,722.47 L649.52,722.30 L652.98,722.15 L656.44,722.03 L659.90,721.93" fill="none" stroke="#7cb8f0" stroke-width="0.8"/><path d="M524.90,747.39 L528.36,747.07 L531.82,746.73 L535.28,746.39 L538.75,746.04 L542.21,745.68 L545.67,745.32 L549.13,744.94 L552.59,744.56 L556.05,744.17 L559.52,743.78 L562.98,743.37 L566.44,742.96 L569.90,742.54 L573.36,742.12 L576.82,741.68 L580.28,741.24 L583.75,740.79 L587.21,740.34 L590.67,739.87 L594.13,739.40 L597.59,738.92 L601.05,738.43 L604.52,737.94 L607.98,737.43 L611.44,736.92 L614.90,736.40 L618.36,735.88 L621.82,735.34 L625.28,734.80 L628.75,734.25 L632.21,733.70 L635.67,733.13 L639.13,732.56 L642.59,731.98 L646.05,731.40 L649.52,730.80 L652.98,730.20 L656.44,729.59 L659.90,728.97" fill="none" stroke="#c482ec" stroke-width="0.8"/><path d="M524.90,755.24 L528.36,753.00 L531.82,750.85 L535.28,748.78 L538.75,746.80 L542.21,744.90 L545.67,743.08 L549.13,741.35 L552.59,739.71 L556.05,738.15 L559.52,736.67 L562.98,735.29 L566.44,733.98 L569.90,732.76 L573.36,731.63 L576.82,730.58 L580.28,729.61 L583.75,728.73 L587.21,727.94 L590.67,727.23 L594.13,726.60 L597.59,726.06 L601.05,725.60 L604.52,725.23 L607.98,724.95 L611.44,724.75 L614.90,724.63 L618.36,724.60 L621.82,724.65 L625.28,724.79 L628.75,725.01 L632.21,725.32 L635.67,725.72 L639.13,726.19 L642.59,726.76 L646.05,727.40 L649.52,728.14 L652.98,728.95 L656.44,729.86 L659.90,730.84" fill="none" stroke="#686868" stroke-width="0.8"/><line x1="524.90" y1="721.06" x2="524.90" y2="738.41" stroke="#66c466" stroke-width="0.7"/><line x1="521.90" y1="721.06" x2="527.90" y2="721.06" stroke="#66c466" stroke-width="0.7"/><line x1="521.90" y1="738.41" x2="527.90" y2="738.41" stroke="#66c466" stroke-width="0.7"/><circle cx="524.90" cy="729.74" r="1.9" fill="#fff" fill-opacity="0.7" stroke="#66c466" stroke-width="0.7"/><line x1="592.40" y1="705.24" x2="592.40" y2="719.53" stroke="#66c466" stroke-width="0.7"/><line x1="589.40" y1="705.24" x2="595.40" y2="705.24" stroke="#66c466" stroke-width="0.7"/><line x1="589.40" y1="719.53" x2="595.40" y2="719.53" stroke="#66c466" stroke-width="0.7"/><circle cx="592.40" cy="712.38" r="1.9" fill="#fff" fill-opacity="0.7" stroke="#66c466" stroke-width="0.7"/><line x1="659.90" y1="698.15" x2="659.90" y2="708.35" stroke="#66c466" stroke-width="0.7"/><line x1="656.90" y1="698.15" x2="662.90" y2="698.15" stroke="#66c466" stroke-width="0.7"/><line x1="656.90" y1="708.35" x2="662.90" y2="708.35" stroke="#66c466" stroke-width="0.7"/><circle cx="659.90" cy="703.25" r="1.9" fill="#fff" fill-opacity="0.7" stroke="#66c466" stroke-width="0.7"/><line x1="524.90" y1="737.39" x2="524.90" y2="751.68" stroke="#7cb8f0" stroke-width="0.7"/><line x1="521.90" y1="737.39" x2="527.90" y2="737.39" stroke="#7cb8f0" stroke-width="0.7"/><line x1="521.90" y1="751.68" x2="527.90" y2="751.68" stroke="#7cb8f0" stroke-width="0.7"/><circle cx="524.90" cy="744.54" r="1.9" fill="#fff" fill-opacity="0.7" stroke="#7cb8f0" stroke-width="0.7"/><line x1="592.40" y1="719.22" x2="592.40" y2="737.59" stroke="#7cb8f0" stroke-width="0.7"/><line x1="589.40" y1="719.22" x2="595.40" y2="719.22" stroke="#7cb8f0" stroke-width="0.7"/><line x1="589.40" y1="737.59" x2="595.40" y2="737.59" stroke="#7cb8f0" stroke-width="0.7"/><circle cx="592.40" cy="728.41" r="1.9" fill="#fff" fill-opacity="0.7" stroke="#7cb8f0" stroke-width="0.7"/><line x1="659.90" y1="709.02" x2="659.90" y2="734.53" stroke="#7cb8f0" stroke-width="0.7"/><line x1="656.90" y1="709.02" x2="662.90" y2="709.02" stroke="#7cb8f0" stroke-width="0.7"/><line x1="656.90" y1="734.53" x2="662.90" y2="734.53" stroke="#7cb8f0" stroke-width="0.7"/><circle cx="659.90" cy="721.77" r="1.9" fill="#fff" fill-opacity="0.7" stroke="#7cb8f0" stroke-width="0.7"/><line x1="524.90" y1="735.55" x2="524.90" y2="759.03" stroke="#c482ec" stroke-width="0.7"/><line x1="521.90" y1="735.55" x2="527.90" y2="735.55" stroke="#c482ec" stroke-width="0.7"/><line x1="521.90" y1="759.03" x2="527.90" y2="759.03" stroke="#c482ec" stroke-width="0.7"/><circle cx="524.90" cy="747.29" r="1.9" fill="#fff" fill-opacity="0.7" stroke="#c482ec" stroke-width="0.7"/><line x1="592.40" y1="735.55" x2="592.40" y2="744.74" stroke="#c482ec" stroke-width="0.7"/><line x1="589.40" y1="735.55" x2="595.40" y2="735.55" stroke="#c482ec" stroke-width="0.7"/><line x1="589.40" y1="744.74" x2="595.40" y2="744.74" stroke="#c482ec" stroke-width="0.7"/><circle cx="592.40" cy="740.15" r="1.9" fill="#fff" fill-opacity="0.7" stroke="#c482ec" stroke-width="0.7"/><line x1="659.90" y1="719.73" x2="659.90" y2="740.15" stroke="#c482ec" stroke-width="0.7"/><line x1="656.90" y1="719.73" x2="662.90" y2="719.73" stroke="#c482ec" stroke-width="0.7"/><line x1="656.90" y1="740.15" x2="662.90" y2="740.15" stroke="#c482ec" stroke-width="0.7"/><circle cx="659.90" cy="729.94" r="1.9" fill="#fff" fill-opacity="0.7" stroke="#c482ec" stroke-width="0.7"/><line x1="524.90" y1="748.16" x2="524.90" y2="760.41" stroke="#686868" stroke-width="0.7"/><line x1="521.90" y1="748.16" x2="527.90" y2="748.16" stroke="#686868" stroke-width="0.7"/><line x1="521.90" y1="760.41" x2="527.90" y2="760.41" stroke="#686868" stroke-width="0.7"/><circle cx="524.90" cy="754.28" r="1.9" fill="#fff" fill-opacity="0.7" stroke="#686868" stroke-width="0.7"/><line x1="592.40" y1="718.46" x2="592.40" y2="735.81" stroke="#686868" stroke-width="0.7"/><line x1="589.40" y1="718.46" x2="595.40" y2="718.46" stroke="#686868" stroke-width="0.7"/><line x1="589.40" y1="735.81" x2="595.40" y2="735.81" stroke="#686868" stroke-width="0.7"/><circle cx="592.40" cy="727.13" r="1.9" fill="#fff" fill-opacity="0.7" stroke="#686868" stroke-width="0.7"/><line x1="659.90" y1="719.22" x2="659.90" y2="742.70" stroke="#686868" stroke-width="0.7"/><line x1="656.90" y1="719.22" x2="662.90" y2="719.22" stroke="#686868" stroke-width="0.7"/><line x1="656.90" y1="742.70" x2="662.90" y2="742.70" stroke="#686868" stroke-width="0.7"/><circle cx="659.90" cy="730.96" r="1.9" fill="#fff" fill-opacity="0.7" stroke="#686868" stroke-width="0.7"/>
</svg></body></html>
